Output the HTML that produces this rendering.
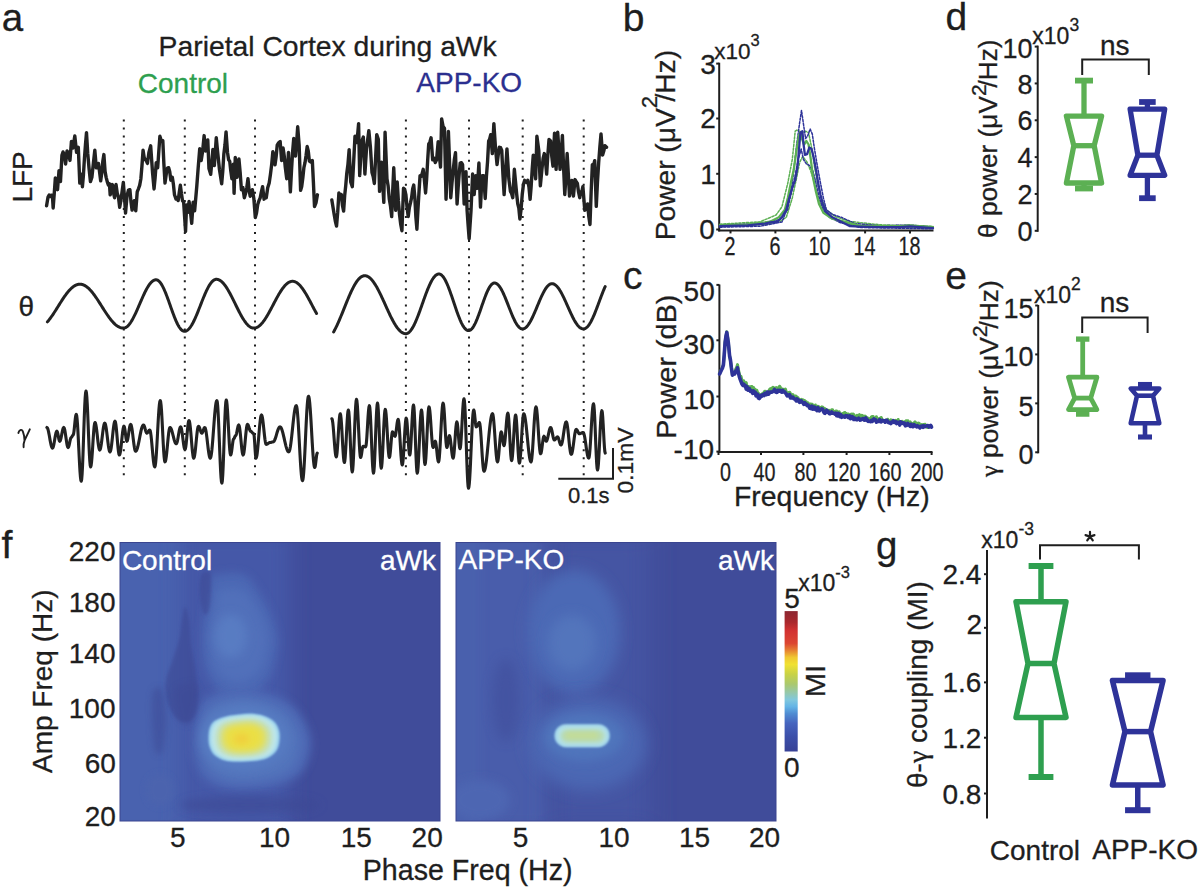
<!DOCTYPE html>
<html><head><meta charset="utf-8"><title>Figure</title>
<style>html,body{margin:0;padding:0;background:#fff;} svg{display:block;} text{font-family:"Liberation Sans",sans-serif;}</style>
</head><body>
<svg width="1200" height="889" viewBox="0 0 1200 889">
<rect width="1200" height="889" fill="#fff"/>
<defs><filter id="b1" x="-60%" y="-60%" width="220%" height="220%"><feGaussianBlur stdDeviation="1"/></filter><filter id="b1_2" x="-60%" y="-60%" width="220%" height="220%"><feGaussianBlur stdDeviation="1.2"/></filter><filter id="b1_5" x="-60%" y="-60%" width="220%" height="220%"><feGaussianBlur stdDeviation="1.5"/></filter><filter id="b2" x="-60%" y="-60%" width="220%" height="220%"><feGaussianBlur stdDeviation="2"/></filter><filter id="b2_5" x="-60%" y="-60%" width="220%" height="220%"><feGaussianBlur stdDeviation="2.5"/></filter><filter id="b3" x="-60%" y="-60%" width="220%" height="220%"><feGaussianBlur stdDeviation="3"/></filter><filter id="b4" x="-60%" y="-60%" width="220%" height="220%"><feGaussianBlur stdDeviation="4"/></filter><filter id="b5" x="-60%" y="-60%" width="220%" height="220%"><feGaussianBlur stdDeviation="5"/></filter><filter id="b6" x="-60%" y="-60%" width="220%" height="220%"><feGaussianBlur stdDeviation="6"/></filter><filter id="b7" x="-60%" y="-60%" width="220%" height="220%"><feGaussianBlur stdDeviation="7"/></filter><filter id="b8" x="-60%" y="-60%" width="220%" height="220%"><feGaussianBlur stdDeviation="8"/></filter><filter id="b9" x="-60%" y="-60%" width="220%" height="220%"><feGaussianBlur stdDeviation="9"/></filter><filter id="b10" x="-60%" y="-60%" width="220%" height="220%"><feGaussianBlur stdDeviation="10"/></filter><filter id="b12" x="-60%" y="-60%" width="220%" height="220%"><feGaussianBlur stdDeviation="12"/></filter><filter id="b14" x="-60%" y="-60%" width="220%" height="220%"><feGaussianBlur stdDeviation="14"/></filter><filter id="b16" x="-60%" y="-60%" width="220%" height="220%"><feGaussianBlur stdDeviation="16"/></filter><filter id="b20" x="-60%" y="-60%" width="220%" height="220%"><feGaussianBlur stdDeviation="20"/></filter><linearGradient id="cbar" x1="0" y1="0" x2="0" y2="1"><stop offset="0" stop-color="#8c2832"/><stop offset="0.08" stop-color="#aa282d"/><stop offset="0.14" stop-color="#d23232"/><stop offset="0.23" stop-color="#dc4632"/><stop offset="0.28" stop-color="#e68232"/><stop offset="0.33" stop-color="#f0c832"/><stop offset="0.38" stop-color="#f0e132"/><stop offset="0.45" stop-color="#c8d246"/><stop offset="0.52" stop-color="#aac86e"/><stop offset="0.58" stop-color="#96c8aa"/><stop offset="0.63" stop-color="#82c8dc"/><stop offset="0.68" stop-color="#64b4e6"/><stop offset="0.73" stop-color="#508cd2"/><stop offset="0.8" stop-color="#4664be"/><stop offset="0.89" stop-color="#3c50aa"/><stop offset="1" stop-color="#374196"/></linearGradient><clipPath id="hm1"><rect x="120" y="542.5" width="320" height="278.5"/></clipPath><clipPath id="hm2"><rect x="456" y="542.5" width="320" height="278.5"/></clipPath></defs>
<g clip-path="url(#hm1)">
<rect x="120" y="542.5" width="320" height="278.5" fill="#404c9a"/>
<rect x="100" y="530" width="92" height="300" rx="0" fill="#4962af" opacity="1" filter="url(#b5)"/>
<rect x="180" y="530" width="110" height="300" rx="0" fill="#4559a8" opacity="1" filter="url(#b10)"/>
<path d="M212.90,575.70 C218.40,573.35 235.18,571.57 242.80,574.20 C250.42,576.83 253.87,584.68 258.60,591.50 C263.33,598.32 268.05,607.23 271.20,615.10 C274.35,622.97 276.98,630.82 277.50,638.70 C278.02,646.58 275.88,655.57 274.30,662.40 C272.72,669.23 271.40,674.45 268.00,679.70 C264.60,684.95 260.20,691.02 253.90,693.90 C247.60,696.78 236.77,698.32 230.20,697.00 C223.63,695.68 218.70,691.00 214.50,686.00 C210.30,681.00 207.10,674.88 205.00,667.00 C202.90,659.12 201.90,647.87 201.90,638.70 C201.90,629.53 203.68,620.40 205.00,612.00 C206.32,603.60 208.48,594.35 209.80,588.30 C211.12,582.25 207.40,578.05 212.90,575.70Z" fill="#4c67b4" opacity="1" filter="url(#b4)"/>
<path d="M193.00,740.00 C193.33,731.67 193.83,717.50 197.00,710.00 C200.17,702.50 204.83,698.50 212.00,695.00 C219.17,691.50 230.33,689.17 240.00,689.00 C249.67,688.83 260.83,690.83 270.00,694.00 C279.17,697.17 288.33,701.17 295.00,708.00 C301.67,714.83 307.83,726.33 310.00,735.00 C312.17,743.67 310.50,752.83 308.00,760.00 C305.50,767.17 302.17,773.33 295.00,778.00 C287.83,782.67 275.83,786.17 265.00,788.00 C254.17,789.83 240.00,790.50 230.00,789.00 C220.00,787.50 210.83,783.83 205.00,779.00 C199.17,774.17 197.00,766.50 195.00,760.00 C193.00,753.50 192.67,748.33 193.00,740.00Z" fill="#4d69b5" opacity="1" filter="url(#b4)"/>
<path d="M218.68,590.78 C222.80,589.01 235.39,587.68 241.10,589.65 C246.81,591.63 249.40,597.51 252.95,602.62 C256.50,607.74 260.04,614.43 262.40,620.33 C264.76,626.23 266.74,632.11 267.12,638.03 C267.51,643.94 265.91,650.67 264.73,655.80 C263.54,660.92 262.55,664.84 260.00,668.78 C257.45,672.71 254.15,677.26 249.43,679.42 C244.70,681.59 236.57,682.74 231.65,681.75 C226.72,680.76 223.03,677.25 219.88,673.50 C216.72,669.75 214.32,665.16 212.75,659.25 C211.18,653.34 210.43,644.90 210.43,638.03 C210.43,631.15 211.76,624.30 212.75,618.00 C213.74,611.70 215.36,604.76 216.35,600.22 C217.34,595.69 214.55,592.54 218.68,590.78Z" fill="#5170ba" opacity="1" filter="url(#b4)"/>
<path d="M202.54,740.00 C202.81,733.17 203.22,721.55 205.82,715.40 C208.42,709.25 212.24,705.97 218.12,703.10 C224.00,700.23 233.15,698.32 241.08,698.18 C249.01,698.04 258.16,699.68 265.68,702.28 C273.20,704.88 280.71,708.16 286.18,713.76 C291.65,719.36 296.70,728.79 298.48,735.90 C300.26,743.01 298.89,750.52 296.84,756.40 C294.79,762.28 292.06,767.33 286.18,771.16 C280.30,774.99 270.46,777.86 261.58,779.36 C252.70,780.86 241.08,781.41 232.88,780.18 C224.68,778.95 217.16,775.94 212.38,771.98 C207.60,768.02 205.82,761.73 204.18,756.40 C202.54,751.07 202.27,746.83 202.54,740.00Z" fill="#5274bc" opacity="1" filter="url(#b4)"/>
<ellipse cx="231" cy="636" rx="16" ry="22" fill="#587bc2" opacity="1" filter="url(#b5)"/>
<ellipse cx="244" cy="738" rx="44" ry="32" fill="#577cc2" opacity="1" filter="url(#b4)"/>
<path d="M185.00,607.00 C186.17,607.00 188.00,613.67 189.00,620.00 C190.00,626.33 190.00,637.00 191.00,645.00 C192.00,653.00 193.83,660.50 195.00,668.00 C196.17,675.50 197.83,682.67 198.00,690.00 C198.17,697.33 197.67,706.67 196.00,712.00 C194.33,717.33 191.33,721.00 188.00,722.00 C184.67,723.00 179.50,721.67 176.00,718.00 C172.50,714.33 168.67,706.33 167.00,700.00 C165.33,693.67 165.17,686.33 166.00,680.00 C166.83,673.67 169.83,668.67 172.00,662.00 C174.17,655.33 177.33,647.00 179.00,640.00 C180.67,633.00 181.00,625.50 182.00,620.00 C183.00,614.50 183.83,607.00 185.00,607.00Z" fill="#3c4894" opacity="0.6" filter="url(#b1_5)"/>
<path d="M201.00,576.00 C202.67,571.83 208.33,570.67 210.00,573.00 C211.67,575.33 211.17,583.83 211.00,590.00 C210.83,596.17 210.17,606.00 209.00,610.00 C207.83,614.00 205.50,616.00 204.00,614.00 C202.50,612.00 200.50,604.33 200.00,598.00 C199.50,591.67 199.33,580.17 201.00,576.00Z" fill="#3c4894" opacity="0.55" filter="url(#b1_5)"/>
<path d="M153.00,692.00 C154.67,687.00 159.83,685.33 162.00,690.00 C164.17,694.67 166.00,709.67 166.00,720.00 C166.00,730.33 163.83,747.00 162.00,752.00 C160.17,757.00 156.67,755.33 155.00,750.00 C153.33,744.67 152.33,729.67 152.00,720.00 C151.67,710.33 151.33,697.00 153.00,692.00Z" fill="#3c4894" opacity="0.5" filter="url(#b3)"/>
<path d="M175.00,690.00 C178.00,684.33 192.17,681.50 196.00,684.00 C199.83,686.50 199.00,698.33 198.00,705.00 C197.00,711.67 193.33,721.83 190.00,724.00 C186.67,726.17 180.50,723.67 178.00,718.00 C175.50,712.33 172.00,695.67 175.00,690.00Z" fill="#3c4894" opacity="0.45" filter="url(#b3)"/>
<ellipse cx="250" cy="805" rx="70" ry="9" fill="#3c4894" opacity="0.6" filter="url(#b4)"/>
<ellipse cx="160" cy="790" rx="14" ry="16" fill="#4b63ae" opacity="1" filter="url(#b3)"/>
<path d="M208.50,738.00 C208.50,734.75 208.82,730.62 209.80,727.80 C210.78,724.98 211.95,722.92 214.40,721.10 C216.85,719.28 220.70,717.95 224.50,716.90 C228.30,715.85 232.27,715.30 237.20,714.80 C242.13,714.30 249.18,713.55 254.10,713.90 C259.02,714.25 263.18,715.42 266.70,716.90 C270.22,718.38 273.08,720.27 275.20,722.80 C277.32,725.33 278.77,728.58 279.40,732.10 C280.03,735.62 279.70,740.53 279.00,743.90 C278.30,747.27 277.25,749.92 275.20,752.30 C273.15,754.68 270.22,756.78 266.70,758.20 C263.18,759.62 259.02,760.23 254.10,760.80 C249.18,761.37 242.13,761.68 237.20,761.60 C232.27,761.52 228.30,761.42 224.50,760.30 C220.70,759.18 216.85,757.07 214.40,754.90 C211.95,752.73 210.78,750.12 209.80,747.30 C208.82,744.48 208.50,741.25 208.50,738.00Z" fill="#9ad0ec" opacity="1" filter="url(#b1)"/>
<path d="M210.95,738.00 C210.95,734.98 211.24,731.13 212.16,728.51 C213.07,725.89 214.16,723.97 216.44,722.28 C218.72,720.59 222.30,719.35 225.83,718.38 C229.36,717.40 233.05,716.89 237.64,716.42 C242.23,715.96 248.79,715.26 253.36,715.59 C257.93,715.91 261.81,717.00 265.08,718.38 C268.35,719.76 271.01,721.51 272.98,723.86 C274.95,726.22 276.30,729.24 276.89,732.51 C277.48,735.78 277.17,740.36 276.51,743.49 C275.86,746.62 274.89,749.08 272.98,751.30 C271.07,753.52 268.35,755.47 265.08,756.79 C261.81,758.10 257.93,758.68 253.36,759.20 C248.79,759.73 242.23,760.03 237.64,759.95 C233.05,759.87 229.36,759.78 225.83,758.74 C222.30,757.70 218.72,755.73 216.44,753.72 C214.16,751.70 213.07,749.27 212.16,746.65 C211.24,744.03 210.95,741.02 210.95,738.00Z" fill="#bce6ee" opacity="1" filter="url(#b1_5)"/>
<path d="M215.50,738.00 C215.50,735.40 215.75,732.09 216.54,729.84 C217.33,727.59 218.26,725.93 220.22,724.48 C222.18,723.03 225.26,721.96 228.30,721.12 C231.34,720.28 234.51,719.84 238.46,719.44 C242.41,719.04 248.05,718.44 251.98,718.72 C255.91,719.00 259.25,719.93 262.06,721.12 C264.87,722.31 267.17,723.81 268.86,725.84 C270.55,727.87 271.71,730.47 272.22,733.28 C272.73,736.09 272.46,740.03 271.90,742.72 C271.34,745.41 270.50,747.53 268.86,749.44 C267.22,751.35 264.87,753.03 262.06,754.16 C259.25,755.29 255.91,755.79 251.98,756.24 C248.05,756.69 242.41,756.95 238.46,756.88 C234.51,756.81 231.34,756.73 228.30,755.84 C225.26,754.95 222.18,753.25 220.22,751.52 C218.26,749.79 217.33,747.69 216.54,745.44 C215.75,743.19 215.50,740.60 215.50,738.00Z" fill="#c2e0c4" opacity="1" filter="url(#b2_5)"/>
<path d="M220.40,738.00 C220.40,735.86 220.61,733.13 221.26,731.27 C221.91,729.41 222.68,728.04 224.29,726.85 C225.91,725.65 228.45,724.77 230.96,724.07 C233.47,723.38 236.09,723.02 239.34,722.69 C242.60,722.36 247.25,721.86 250.50,722.09 C253.74,722.32 256.49,723.09 258.81,724.07 C261.13,725.05 263.02,726.30 264.42,727.97 C265.82,729.64 266.78,731.78 267.19,734.11 C267.61,736.43 267.39,739.67 266.93,741.89 C266.47,744.12 265.77,745.87 264.42,747.44 C263.07,749.01 261.13,750.40 258.81,751.33 C256.49,752.27 253.74,752.67 250.50,753.05 C247.25,753.42 242.60,753.63 239.34,753.58 C236.09,753.52 233.47,753.45 230.96,752.72 C228.45,751.98 225.91,750.58 224.29,749.15 C222.68,747.72 221.91,746.00 221.26,744.14 C220.61,742.28 220.40,740.14 220.40,738.00Z" fill="#dcdf70" opacity="1" filter="url(#b3)"/>
<path d="M225.30,738.00 C225.30,736.31 225.46,734.16 225.98,732.70 C226.49,731.23 227.09,730.16 228.37,729.21 C229.64,728.27 231.64,727.57 233.62,727.03 C235.60,726.48 237.66,726.20 240.22,725.94 C242.79,725.68 246.46,725.29 249.01,725.47 C251.57,725.65 253.74,726.26 255.56,727.03 C257.39,727.80 258.88,728.78 259.98,730.10 C261.08,731.41 261.84,733.10 262.17,734.93 C262.50,736.76 262.32,739.32 261.96,741.07 C261.60,742.82 261.05,744.20 259.98,745.44 C258.92,746.68 257.39,747.77 255.56,748.50 C253.74,749.24 251.57,749.56 249.01,749.86 C246.46,750.15 242.79,750.32 240.22,750.27 C237.66,750.23 235.60,750.18 233.62,749.60 C231.64,749.02 229.64,747.91 228.37,746.79 C227.09,745.66 226.49,744.30 225.98,742.84 C225.46,741.37 225.30,739.69 225.30,738.00Z" fill="#ebdf44" opacity="1" filter="url(#b3)"/>
<ellipse cx="241.5" cy="739" rx="8" ry="5" fill="#f0cf3c" opacity="1" filter="url(#b3)"/>
</g>
<rect x="120" y="542.5" width="320" height="278.5" fill="none" stroke="#3a4590" stroke-width="1"/>
<g clip-path="url(#hm2)">
<rect x="456" y="542.5" width="320" height="278.5" fill="#404c9a"/>
<rect x="440" y="530" width="110" height="300" rx="0" fill="#485dab" opacity="1" filter="url(#b8)"/>
<rect x="440" y="530" width="40" height="300" rx="0" fill="#4a61ad" opacity="1" filter="url(#b5)"/>
<rect x="550" y="530" width="100" height="300" rx="0" fill="#4454a3" opacity="1" filter="url(#b12)"/>
<ellipse cx="574" cy="632" rx="46" ry="62" fill="#4c69b5" opacity="1" filter="url(#b7)"/>
<ellipse cx="572" cy="643" rx="24" ry="28" fill="#5374bc" opacity="1" filter="url(#b6)"/>
<ellipse cx="588" cy="744" rx="58" ry="46" fill="#4b68b4" opacity="1" filter="url(#b8)"/>
<ellipse cx="584" cy="737" rx="40" ry="24" fill="#5074bc" opacity="1" filter="url(#b5)"/>
<ellipse cx="506" cy="700" rx="14" ry="42" fill="#3d4a97" opacity="0.45" filter="url(#b6)"/>
<ellipse cx="480" cy="800" rx="30" ry="20" fill="#4d66b2" opacity="1" filter="url(#b5)"/>
<rect x="554.5" y="724.2" width="55.3" height="23" rx="11.5" fill="#9ccfe9" opacity="1" filter="url(#b1_2)"/>
<rect x="556.5" y="726" width="51.3" height="19.4" rx="9.5" fill="#b3e2ec" opacity="1" filter="url(#b1_5)"/>
<rect x="560.5" y="729.5" width="44" height="13" rx="6.5" fill="#b9dab0" opacity="1" filter="url(#b2)"/>
<rect x="566" y="732" width="32" height="7" rx="3.5" fill="#c2dc98" opacity="1" filter="url(#b2)"/>
</g>
<rect x="456" y="542.5" width="320" height="278.5" fill="none" stroke="#3a4590" stroke-width="1"/>
<rect x="784.6" y="611.1" width="13.1" height="140.4" fill="url(#cbar)"/>
<line x1="719.2" y1="62.7" x2="719.2" y2="231.4" stroke="#1e1e1e" stroke-width="2"/>
<line x1="716.2" y1="63.6" x2="719.2" y2="63.6" stroke="#1e1e1e" stroke-width="2"/>
<line x1="716.2" y1="118.5" x2="719.2" y2="118.5" stroke="#1e1e1e" stroke-width="2"/>
<line x1="716.2" y1="173.8" x2="719.2" y2="173.8" stroke="#1e1e1e" stroke-width="2"/>
<line x1="716.2" y1="229.5" x2="719.2" y2="229.5" stroke="#1e1e1e" stroke-width="2"/>
<line x1="718.2" y1="230.4" x2="933.5" y2="230.4" stroke="#1e1e1e" stroke-width="2"/>
<line x1="730.5" y1="230.4" x2="730.5" y2="233.4" stroke="#1e1e1e" stroke-width="2"/>
<line x1="775.4" y1="230.4" x2="775.4" y2="233.4" stroke="#1e1e1e" stroke-width="2"/>
<line x1="820.2" y1="230.4" x2="820.2" y2="233.4" stroke="#1e1e1e" stroke-width="2"/>
<line x1="865.1" y1="230.4" x2="865.1" y2="233.4" stroke="#1e1e1e" stroke-width="2"/>
<line x1="910" y1="230.4" x2="910" y2="233.4" stroke="#1e1e1e" stroke-width="2"/>
<path d="M719.90,224.20 L760.00,221.80 L776.00,215.00 L781.90,206.90 L787.80,183.10 L792.30,159.40 L795.20,131.20 L797.50,129.70 L801.00,133.00 L805.60,131.20 L808.60,132.70 L811.60,147.50 L814.50,166.80 L817.50,183.10 L821.20,198.00 L826.40,209.80 L835.00,216.50 L850.00,221.50 L880.00,224.80 L933.00,226.40" fill="none" stroke="#5cb053" stroke-width="1.5" stroke-linejoin="round" stroke-linecap="round" stroke-dasharray="2.2 1.6"/>
<path d="M719.90,226.20 L765.00,224.60 L780.00,221.50 L786.30,217.30 L792.30,198.00 L796.70,177.20 L799.70,162.30 L802.70,156.40 L807.10,162.30 L810.80,171.20 L814.50,183.10 L817.50,195.00 L822.00,206.90 L827.90,215.80 L840.00,221.80 L860.00,226.00 L933.00,228.00" fill="none" stroke="#5cb053" stroke-width="1.5" stroke-linejoin="round" stroke-linecap="round" stroke-dasharray="2.2 1.6"/>
<path d="M719.90,225.20 L760.00,223.40 L780.00,219.50 L787.50,210.00 L792.30,183.10 L796.70,144.50 L799.70,122.30 L801.50,110.40 L803.40,123.70 L805.60,138.60 L807.80,135.60 L810.10,128.90 L812.30,134.10 L814.50,149.00 L817.50,166.80 L820.50,183.10 L823.40,198.00 L826.40,209.80 L832.30,214.30 L841.20,217.30 L855.00,223.50 L880.00,225.80 L910.00,225.00 L933.00,227.00" fill="none" stroke="#2e3399" stroke-width="1.5" stroke-linejoin="round" stroke-linecap="round" stroke-dasharray="2.2 1.6"/>
<path d="M719.90,227.20 L760.00,226.20 L782.00,222.00 L787.80,206.90 L793.70,183.10 L798.20,159.40 L801.20,149.00 L803.40,159.40 L806.40,163.80 L809.30,165.30 L813.00,171.20 L816.00,183.10 L819.00,196.50 L823.40,209.80 L829.40,217.30 L840.00,222.50 L860.00,227.50 L933.00,228.80" fill="none" stroke="#2e3399" stroke-width="1.5" stroke-linejoin="round" stroke-linecap="round" stroke-dasharray="2.2 1.6"/>
<path d="M719.90,225.20 L747.60,224.40 L765.00,222.40 L770.00,221.70 L778.90,217.30 L784.80,209.80 L787.80,198.00 L790.80,183.10 L793.70,169.80 L796.70,149.00 L798.90,135.60 L800.40,131.90 L801.90,138.60 L804.10,144.50 L806.40,141.00 L808.60,144.50 L810.80,159.40 L813.00,177.20 L816.00,192.00 L819.00,203.90 L823.40,212.80 L832.30,218.70 L844.20,221.70 L860.00,225.60 L880.00,226.20 L900.00,226.20 L910.00,225.40 L933.00,227.20" fill="none" stroke="#5cb053" stroke-width="2.3" stroke-linejoin="round" stroke-linecap="round" />
<path d="M719.90,226.20 L747.60,225.40 L765.00,223.60 L770.00,222.40 L777.40,221.70 L781.90,217.30 L786.30,209.80 L789.30,198.00 L792.30,187.60 L795.20,180.10 L797.50,166.80 L798.90,150.50 L800.40,132.70 L802.40,131.20 L803.40,143.00 L804.90,154.90 L807.10,154.20 L809.30,147.50 L811.60,149.00 L813.80,157.90 L816.00,169.80 L818.20,183.10 L820.50,195.00 L822.70,203.90 L825.70,211.30 L832.30,217.30 L838.30,220.20 L844.20,223.20 L850.00,226.20 L860.00,226.60 L880.00,227.20 L900.00,227.20 L910.00,226.40 L933.00,228.20" fill="none" stroke="#2e3399" stroke-width="2.3" stroke-linejoin="round" stroke-linecap="round" />
<line x1="719.4" y1="284.5" x2="719.4" y2="452.6" stroke="#1e1e1e" stroke-width="2"/>
<line x1="716.4" y1="284.9" x2="719.4" y2="284.9" stroke="#1e1e1e" stroke-width="2"/>
<line x1="716.4" y1="340.3" x2="719.4" y2="340.3" stroke="#1e1e1e" stroke-width="2"/>
<line x1="716.4" y1="396.5" x2="719.4" y2="396.5" stroke="#1e1e1e" stroke-width="2"/>
<line x1="716.4" y1="451.6" x2="719.4" y2="451.6" stroke="#1e1e1e" stroke-width="2"/>
<line x1="718.4" y1="452" x2="932.5" y2="452" stroke="#1e1e1e" stroke-width="2"/>
<line x1="718.5" y1="452" x2="718.5" y2="455" stroke="#1e1e1e" stroke-width="2"/>
<line x1="761" y1="452" x2="761" y2="455" stroke="#1e1e1e" stroke-width="2"/>
<line x1="803.4" y1="452" x2="803.4" y2="455" stroke="#1e1e1e" stroke-width="2"/>
<line x1="846.6" y1="452" x2="846.6" y2="455" stroke="#1e1e1e" stroke-width="2"/>
<line x1="889.4" y1="452" x2="889.4" y2="455" stroke="#1e1e1e" stroke-width="2"/>
<line x1="931.6" y1="452" x2="931.6" y2="455" stroke="#1e1e1e" stroke-width="2"/>
<path d="M719.60,373.40 L720.65,370.96 L721.70,368.90 L722.55,366.89 L723.40,364.40 L724.25,354.85 L725.10,341.90 L725.95,336.71 L726.80,331.80 L728.30,341.90 L729.60,355.40 L730.45,361.03 L731.30,366.60 L732.40,374.50 L733.55,374.30 L734.70,373.40 L735.63,369.21 L736.57,367.58 L737.50,364.60 L738.35,369.32 L739.20,373.00 L740.13,376.81 L741.07,376.64 L742.00,380.90 L742.84,380.81 L743.67,380.66 L744.51,384.24 L745.35,384.47 L746.19,382.57 L747.03,387.03 L747.86,387.66 L748.70,386.50 L749.51,387.60 L750.33,387.93 L751.14,386.59 L751.96,386.50 L752.77,389.04 L753.59,387.65 L754.40,389.90 L755.20,389.39 L756.00,390.32 L756.80,390.21 L757.60,392.67 L758.40,393.30 L759.20,395.64 L760.00,395.00 L760.80,394.59 L761.60,394.59 L762.40,393.54 L763.20,393.71 L764.00,392.40 L764.80,391.20 L765.60,391.60 L766.40,393.28 L767.20,392.95 L768.00,392.02 L768.80,391.17 L769.60,389.29 L770.40,388.63 L771.20,389.40 L772.05,388.34 L772.90,387.26 L773.75,389.83 L774.60,388.15 L775.45,389.72 L776.30,387.67 L777.15,389.74 L778.00,387.70 L778.80,389.33 L779.60,386.19 L780.40,387.27 L781.20,390.31 L782.00,388.79 L782.80,391.08 L783.60,389.40 L784.50,389.67 L785.40,389.05 L786.30,391.96 L787.20,393.23 L788.10,392.80 L788.90,392.44 L789.70,392.26 L790.50,393.80 L791.30,396.88 L792.10,396.62 L792.90,394.61 L793.70,396.70 L794.55,396.11 L795.40,395.95 L796.25,396.21 L797.10,399.59 L797.95,397.54 L798.80,399.49 L799.65,399.46 L800.50,400.10 L801.34,399.29 L802.17,401.88 L803.01,399.90 L803.85,402.37 L804.69,400.69 L805.53,402.33 L806.36,401.93 L807.20,403.50 L808.02,402.89 L808.84,406.00 L809.65,405.64 L810.47,403.95 L811.29,406.58 L812.11,404.20 L812.93,405.24 L813.75,407.39 L814.56,406.85 L815.38,404.99 L816.20,406.90 L817.01,409.09 L817.81,406.22 L818.62,406.64 L819.43,408.93 L820.24,407.39 L821.04,407.50 L821.85,406.84 L822.66,407.15 L823.46,409.35 L824.27,408.23 L825.08,409.90 L825.89,409.22 L826.69,409.78 L827.50,410.20 L828.34,412.19 L829.17,410.43 L830.01,410.95 L830.85,412.27 L831.69,409.68 L832.53,409.72 L833.36,412.88 L834.20,411.40 L835.03,412.93 L835.85,410.91 L836.68,410.92 L837.51,413.38 L838.34,414.43 L839.16,411.71 L839.99,414.98 L840.82,414.97 L841.65,414.11 L842.47,413.63 L843.30,414.20 L844.11,412.74 L844.91,412.59 L845.72,416.41 L846.53,413.63 L847.33,415.62 L848.14,413.95 L848.95,416.33 L849.75,415.55 L850.56,414.45 L851.37,414.10 L852.17,416.40 L852.98,413.92 L853.79,414.67 L854.59,416.12 L855.40,417.41 L856.21,416.58 L857.01,415.36 L857.82,418.03 L858.63,415.30 L859.43,414.67 L860.24,415.80 L861.05,416.62 L861.85,415.20 L862.66,415.79 L863.47,416.68 L864.27,417.61 L865.08,415.97 L865.89,417.01 L866.69,419.24 L867.50,417.80 L868.31,419.80 L869.11,418.59 L869.92,418.80 L870.73,418.46 L871.53,416.76 L872.34,416.42 L873.15,416.43 L873.95,420.08 L874.76,419.32 L875.57,420.45 L876.37,416.77 L877.18,419.30 L877.99,418.77 L878.79,419.84 L879.60,418.28 L880.41,421.08 L881.21,417.46 L882.02,419.42 L882.83,420.27 L883.63,421.00 L884.44,420.43 L885.25,420.37 L886.05,420.81 L886.86,421.38 L887.67,419.21 L888.47,420.62 L889.28,421.56 L890.09,421.52 L890.89,419.79 L891.70,420.20 L892.50,421.49 L893.31,421.90 L894.11,420.86 L894.91,421.19 L895.72,420.35 L896.52,421.27 L897.32,421.50 L898.13,419.51 L898.93,421.87 L899.73,423.41 L900.54,423.08 L901.34,422.59 L902.14,421.36 L902.95,422.87 L903.75,422.37 L904.55,421.94 L905.36,423.65 L906.16,420.76 L906.96,423.54 L907.77,420.79 L908.57,423.20 L909.37,422.84 L910.18,421.96 L910.98,423.95 L911.78,423.27 L912.59,423.86 L913.39,425.21 L914.19,422.68 L915.00,421.82 L915.80,423.90 L916.63,423.24 L917.45,424.89 L918.28,423.12 L919.11,423.13 L919.93,426.21 L920.76,425.36 L921.58,424.63 L922.41,426.56 L923.24,424.44 L924.06,425.93 L924.89,424.20 L925.72,425.27 L926.54,426.90 L927.37,427.47 L928.19,427.47 L929.02,425.63 L929.85,426.56 L930.67,425.63 L931.50,426.50" fill="none" stroke="#5cb053" stroke-width="3.0" stroke-linejoin="round" stroke-linecap="round" />
<path d="M719.60,374.00 L720.65,371.66 L721.70,369.50 L722.55,367.82 L723.40,365.00 L724.25,354.35 L725.10,342.50 L725.95,336.16 L726.80,332.40 L728.30,342.50 L729.60,356.00 L730.45,359.84 L731.30,367.20 L732.40,375.10 L733.55,374.10 L734.70,374.00 L735.63,371.12 L736.57,370.98 L737.50,367.80 L738.35,372.69 L739.20,376.20 L740.13,379.20 L741.07,381.68 L742.00,384.10 L742.84,385.38 L743.67,384.22 L744.51,385.98 L745.35,385.68 L746.19,389.06 L747.03,386.71 L747.86,390.15 L748.70,389.70 L749.51,388.65 L750.33,391.34 L751.14,390.57 L751.96,391.30 L752.77,393.36 L753.59,390.88 L754.40,393.10 L755.20,392.16 L756.00,395.88 L756.80,395.06 L757.60,394.20 L758.40,398.07 L759.20,398.57 L760.00,397.60 L760.80,395.72 L761.60,396.35 L762.40,394.83 L763.20,394.98 L764.00,395.61 L764.80,393.47 L765.60,394.20 L766.40,394.59 L767.20,391.96 L768.00,392.07 L768.80,394.08 L769.60,392.27 L770.40,392.02 L771.20,392.00 L772.05,392.13 L772.90,391.49 L773.75,390.95 L774.60,389.46 L775.45,391.75 L776.30,392.41 L777.15,392.23 L778.00,390.30 L778.80,391.13 L779.60,390.27 L780.40,390.54 L781.20,391.96 L782.00,392.14 L782.80,390.37 L783.60,392.00 L784.50,391.73 L785.40,392.87 L786.30,394.08 L787.20,395.84 L788.10,395.40 L788.90,395.87 L789.70,394.64 L790.50,397.98 L791.30,397.03 L792.10,397.83 L792.90,397.23 L793.70,398.70 L794.55,398.86 L795.40,399.15 L796.25,400.95 L797.10,398.97 L797.95,401.00 L798.80,400.09 L799.65,402.38 L800.50,402.10 L801.34,400.86 L802.17,402.15 L803.01,402.81 L803.85,404.29 L804.69,402.61 L805.53,404.50 L806.36,404.03 L807.20,405.50 L808.02,405.02 L808.84,406.03 L809.65,408.08 L810.47,406.67 L811.29,408.69 L812.11,406.16 L812.93,409.19 L813.75,407.48 L814.56,407.16 L815.38,409.49 L816.20,408.90 L817.01,410.62 L817.81,407.60 L818.62,408.77 L819.43,410.82 L820.24,409.51 L821.04,409.38 L821.85,408.78 L822.66,409.13 L823.46,411.45 L824.27,413.00 L825.08,413.29 L825.89,411.74 L826.69,410.25 L827.50,412.20 L828.34,411.71 L829.17,413.53 L830.01,413.85 L830.85,413.30 L831.69,411.98 L832.53,413.20 L833.36,413.17 L834.20,413.40 L835.03,414.11 L835.85,413.05 L836.68,415.77 L837.51,415.84 L838.34,413.46 L839.16,414.18 L839.99,416.53 L840.82,414.64 L841.65,417.29 L842.47,416.00 L843.30,416.20 L844.11,417.03 L844.91,417.18 L845.72,415.53 L846.53,415.91 L847.33,415.92 L848.14,417.58 L848.95,417.74 L849.75,415.83 L850.56,418.67 L851.37,417.11 L852.17,416.59 L852.98,417.41 L853.79,419.49 L854.59,418.10 L855.40,418.45 L856.21,419.63 L857.01,419.90 L857.82,419.30 L858.63,418.18 L859.43,418.92 L860.24,420.16 L861.05,419.88 L861.85,419.25 L862.66,418.53 L863.47,418.73 L864.27,420.17 L865.08,419.67 L865.89,417.82 L866.69,420.44 L867.50,419.80 L868.31,421.33 L869.11,421.03 L869.92,421.47 L870.73,421.60 L871.53,420.33 L872.34,421.32 L873.15,419.93 L873.95,418.99 L874.76,419.99 L875.57,419.92 L876.37,422.24 L877.18,421.44 L877.99,420.99 L878.79,421.36 L879.60,419.65 L880.41,421.20 L881.21,421.88 L882.02,420.86 L882.83,420.40 L883.63,421.06 L884.44,420.84 L885.25,422.23 L886.05,420.35 L886.86,420.25 L887.67,421.12 L888.47,422.58 L889.28,422.89 L890.09,422.61 L890.89,423.68 L891.70,422.20 L892.50,421.84 L893.31,420.75 L894.11,422.53 L894.91,422.49 L895.72,421.66 L896.52,423.54 L897.32,422.49 L898.13,422.24 L898.93,422.69 L899.73,425.03 L900.54,421.78 L901.34,423.18 L902.14,423.01 L902.95,422.85 L903.75,423.81 L904.55,423.17 L905.36,425.80 L906.16,424.42 L906.96,425.26 L907.77,423.45 L908.57,424.66 L909.37,425.30 L910.18,426.27 L910.98,424.26 L911.78,425.14 L912.59,426.68 L913.39,426.72 L914.19,424.67 L915.00,425.91 L915.80,425.90 L916.63,426.90 L917.45,425.65 L918.28,426.71 L919.11,426.74 L919.93,427.92 L920.76,426.47 L921.58,426.99 L922.41,425.87 L923.24,427.30 L924.06,425.89 L924.89,426.59 L925.72,426.16 L926.54,426.03 L927.37,425.47 L928.19,425.86 L929.02,427.07 L929.85,426.08 L930.67,425.40 L931.50,427.10" fill="none" stroke="#2e3399" stroke-width="3.6" stroke-linejoin="round" stroke-linecap="round" />
<line x1="123.8" y1="119.5" x2="123.8" y2="476" stroke="#1e1e1e" stroke-width="2" stroke-dasharray="2 6.04"/>
<line x1="184.8" y1="119.5" x2="184.8" y2="476" stroke="#1e1e1e" stroke-width="2" stroke-dasharray="2 6.04"/>
<line x1="255.0" y1="119.5" x2="255.0" y2="476" stroke="#1e1e1e" stroke-width="2" stroke-dasharray="2 6.04"/>
<line x1="405.9" y1="119.5" x2="405.9" y2="476" stroke="#1e1e1e" stroke-width="2" stroke-dasharray="2 6.04"/>
<line x1="469.0" y1="119.5" x2="469.0" y2="476" stroke="#1e1e1e" stroke-width="2" stroke-dasharray="2 6.04"/>
<line x1="522.7" y1="119.5" x2="522.7" y2="476" stroke="#1e1e1e" stroke-width="2" stroke-dasharray="2 6.04"/>
<line x1="583.7" y1="119.5" x2="583.7" y2="476" stroke="#1e1e1e" stroke-width="2" stroke-dasharray="2 6.04"/>
<path d="M46.58,205.76 L48.04,196.99 L49.14,195.05 L50.23,196.52 L51.33,195.11 L52.43,195.53 L53.16,207.95 L54.25,193.59 L55.35,177.98 L56.45,184.58 L57.54,189.68 L59.01,170.67 L60.47,181.64 L61.93,155.32 L63.03,151.98 L64.12,153.86 L65.58,164.09 L67.05,150.94 L68.51,152.77 L69.97,160.44 L71.43,141.43 L72.89,148.01 L74.80,136.02 L76.55,152.40 L78.30,147.28 L79.77,183.10 L81.67,174.33 L82.40,186.75 L83.42,175.26 L84.44,158.26 L85.47,144.59 L86.49,132.66 L87.73,153.18 L88.98,167.75 L90.44,181.64 L91.90,177.25 L93.36,163.55 L94.82,150.20 L96.29,167.75 L97.38,167.57 L98.48,163.36 L99.58,171.99 L100.67,180.91 L101.74,172.97 L102.82,161.27 L103.89,154.59 L105.06,171.40 L106.15,177.33 L107.25,181.64 L108.35,184.94 L109.44,183.83 L110.18,194.80 L111.27,189.82 L112.37,184.56 L113.46,192.59 L114.56,197.72 L116.02,184.56 L117.24,193.14 L118.46,197.05 L119.68,207.22 L120.90,200.49 L122.12,191.20 L123.33,182.37 L124.43,196.53 L125.53,213.07 L126.99,196.26 L128.45,190.15 L129.91,189.68 L131.01,202.11 L132.11,210.15 L133.20,205.23 L134.30,200.64 L135.76,210.88 L137.22,191.87 L138.44,188.80 L139.66,185.37 L140.88,178.71 L141.97,165.74 L143.07,150.20 L144.17,157.48 L145.26,159.71 L146.36,160.90 L147.46,163.36 L148.92,152.40 L150.67,145.82 L152.57,172.87 L154.04,188.95 L155.13,177.59 L156.23,162.63 L157.69,167.75 L158.79,151.70 L159.88,136.32 L161.35,141.12 L162.81,140.70 L163.90,164.17 L165.00,183.10 L166.46,172.87 L167.56,167.89 L168.65,167.75 L169.75,171.78 L170.85,180.18 L172.31,177.25 L173.41,184.33 L174.50,194.80 L175.96,199.05 L177.43,197.72 L178.16,200.64 L179.25,192.58 L180.35,185.29 L181.45,193.73 L182.54,200.64 L183.65,202.11 L185.56,231.35 L186.58,205.03 L188.04,212.34 L189.06,201.37 L190.38,211.15 L191.70,223.30 L193.16,202.11 L194.62,210.88 L195.72,198.49 L196.81,186.02 L198.27,166.70 L199.74,148.74 L201.20,160.44 L202.66,150.94 L204.12,135.58 L205.58,150.94 L206.68,144.56 L207.78,139.97 L208.95,168.48 L210.70,174.33 L211.80,162.41 L212.89,149.47 L214.36,165.56 L216.26,137.78 L217.28,148.52 L218.30,158.25 L219.42,169.20 L220.55,176.39 L221.67,183.83 L222.76,171.42 L223.86,153.86 L224.96,145.03 L226.05,131.93 L227.51,152.40 L228.61,159.73 L229.71,161.17 L230.80,170.97 L231.90,178.71 L233.36,164.09 L234.09,193.33 L235.26,157.51 L237.02,177.25 L238.92,158.98 L240.16,172.31 L241.40,189.68 L242.87,187.49 L244.33,197.72 L245.55,193.55 L246.76,187.84 L247.98,178.71 L249.08,189.91 L250.18,196.26 L251.27,193.38 L252.37,189.68 L253.83,198.45 L255.29,217.46 L256.51,213.13 L257.73,204.51 L258.95,200.64 L260.17,198.00 L261.38,191.83 L262.60,186.75 L264.06,199.18 L265.16,197.16 L266.26,197.72 L267.72,187.79 L269.18,183.10 L270.40,174.75 L271.62,165.08 L272.84,151.67 L273.93,155.78 L275.03,164.82 L276.13,156.76 L277.22,145.09 L278.68,142.72 L280.15,141.43 L281.61,160.44 L283.07,148.01 L284.17,155.42 L285.26,167.02 L286.73,178.71 L288.48,152.40 L290.38,191.87 L291.48,170.90 L292.57,152.40 L293.74,138.51 L295.50,156.05 L296.59,143.05 L297.69,126.81 L299.15,145.09 L300.61,190.41 L301.71,186.43 L302.81,177.98 L303.90,167.57 L305.00,162.63 L306.10,155.28 L307.19,146.55 L308.29,151.13 L309.39,161.17 L310.85,162.11 L312.31,160.44 L313.41,182.45 L314.50,206.49 L315.96,202.93 L317.43,194.80" fill="none" stroke="#222" stroke-width="3.4" stroke-linejoin="round" stroke-linecap="round" />
<path d="M331.82,200.05 L333.00,207.28 L334.18,214.50 L335.36,221.32 L336.54,226.04 L337.72,212.16 L338.91,192.96 L340.09,195.18 L341.27,194.53 L342.45,205.34 L343.63,211.08 L344.68,195.65 L345.73,185.66 L346.78,173.26 L347.97,164.11 L349.15,149.63 L350.72,181.93 L352.30,186.66 L353.64,162.34 L354.98,136.24 L356.55,142.54 L357.58,135.49 L358.60,123.63 L359.70,175.63 L361.28,147.27 L362.30,139.83 L363.33,137.03 L364.90,174.05 L366.48,148.84 L367.66,139.60 L368.84,130.72 L370.42,147.27 L371.99,172.48 L373.17,176.47 L374.36,183.50 L375.54,159.35 L376.72,134.66 L378.30,139.39 L379.56,191.38 L381.45,162.23 L382.63,182.77 L383.81,202.41 L385.07,132.30 L386.96,178.78 L388.14,186.10 L389.32,199.26 L390.51,206.23 L391.69,216.59 L392.71,190.85 L393.74,167.75 L395.63,210.29 L397.20,181.93 L398.38,200.97 L399.57,215.01 L400.75,224.49 L401.93,230.77 L403.50,188.23 L404.69,189.34 L405.87,194.53 L407.05,207.34 L408.23,216.59 L409.41,207.33 L410.59,202.41 L411.64,197.34 L412.69,188.62 L413.75,185.08 L414.80,196.80 L415.85,216.72 L416.90,229.19 L417.95,209.60 L419.00,191.78 L420.05,175.63 L421.10,176.42 L422.15,173.66 L423.20,169.32 L424.38,179.88 L425.56,192.96 L426.61,179.45 L427.66,160.63 L428.71,144.12 L429.89,142.03 L431.08,137.81 L432.65,159.87 L433.96,158.10 L435.28,162.52 L436.59,159.87 L438.17,141.75 L439.35,155.50 L440.53,166.96 L441.63,118.91 L443.05,126.43 L444.47,128.36 L446.04,199.26 L447.23,167.75 L448.41,131.51 L449.59,163.39 L450.77,197.68 L451.95,183.46 L453.13,170.90 L454.32,159.84 L455.50,152.78 L457.07,203.99 L458.12,188.21 L459.17,174.07 L460.22,163.02 L461.41,162.62 L462.59,164.60 L464.16,203.99 L465.99,171.69 L467.09,210.29 L468.11,225.09 L469.14,238.65 L471.03,210.29 L472.60,174.05 L474.18,194.53 L475.76,175.63 L477.33,188.23 L478.91,163.02 L480.48,207.14 L482.06,175.63 L483.63,175.63 L485.21,198.47 L486.39,176.98 L487.57,161.45 L488.67,140.96 L489.70,138.88 L490.72,134.66 L492.30,153.57 L493.87,123.63 L495.45,147.27 L497.03,164.60 L498.21,154.96 L499.39,147.27 L500.57,147.70 L501.75,150.42 L502.93,174.39 L504.12,194.53 L505.53,171.57 L506.95,148.84 L508.84,178.78 L510.42,191.38 L511.60,193.43 L512.78,197.68 L514.36,169.32 L515.54,181.82 L516.72,194.53 L517.77,203.90 L518.82,208.16 L519.87,218.95 L521.05,209.59 L522.23,194.53 L523.42,184.58 L524.60,180.35 L525.65,181.85 L526.70,182.42 L527.75,180.35 L528.93,186.91 L530.11,199.26 L531.16,186.28 L532.21,169.05 L533.26,155.14 L534.44,167.43 L535.63,178.78 L536.89,136.24 L538.78,150.42 L540.35,185.87 L541.93,169.32 L543.11,158.50 L544.29,153.57 L545.47,161.09 L546.66,174.05 L547.84,154.81 L549.02,139.39 L550.59,140.96 L551.78,156.30 L552.96,166.17 L554.53,133.09 L556.11,169.32 L557.68,132.30 L558.87,148.99 L560.05,169.32 L561.23,153.92 L562.41,135.45 L563.59,167.57 L564.77,194.53 L565.96,176.70 L567.14,153.57 L568.32,173.90 L569.50,196.11 L570.68,187.36 L571.86,180.35 L573.44,196.11 L575.01,179.57 L576.20,181.68 L577.38,183.50 L578.56,192.25 L579.74,197.68 L580.79,191.66 L581.84,191.82 L582.89,186.66 L584.78,210.29 L586.20,208.92 L587.62,203.99 L588.80,216.39 L589.98,224.47 L591.16,191.75 L592.35,164.60 L593.53,165.30 L594.71,160.66 L596.28,206.35 L597.47,182.23 L598.65,163.02 L599.83,147.49 L601.01,133.87 L602.59,155.14 L603.77,151.08 L604.95,145.69 L606.53,147.27" fill="none" stroke="#222" stroke-width="3.4" stroke-linejoin="round" stroke-linecap="round" />
<path d="M47.40,321.87 L47.90,321.29 L48.40,320.69 L48.90,320.07 L49.40,319.43 L49.90,318.78 L50.40,318.11 L50.90,317.43 L51.40,316.73 L51.90,316.01 L52.40,315.29 L52.90,314.55 L53.40,313.80 L53.90,313.04 L54.40,312.28 L54.90,311.50 L55.40,310.72 L55.90,309.93 L56.40,309.14 L56.90,308.35 L57.40,307.55 L57.90,306.75 L58.40,305.95 L58.90,305.15 L59.40,304.35 L59.90,303.56 L60.40,302.77 L60.90,301.98 L61.40,301.20 L61.90,300.42 L62.40,299.66 L62.90,298.90 L63.40,298.15 L63.90,297.41 L64.40,296.69 L64.90,295.97 L65.40,295.27 L65.90,294.59 L66.40,293.92 L66.90,293.27 L67.40,292.63 L67.90,292.01 L68.40,291.41 L68.90,290.83 L69.40,290.27 L69.90,289.73 L70.40,289.21 L70.90,288.72 L71.40,288.24 L71.90,287.80 L72.40,287.37 L72.90,286.97 L73.40,286.60 L73.90,286.25 L74.40,285.92 L74.90,285.63 L75.40,285.36 L75.90,285.12 L76.40,284.90 L76.90,284.72 L77.40,284.56 L77.90,284.43 L78.40,284.33 L78.90,284.26 L79.40,284.21 L79.90,284.20 L80.40,284.21 L80.90,284.26 L81.40,284.33 L81.90,284.43 L82.40,284.56 L82.90,284.71 L83.40,284.90 L83.90,285.11 L84.40,285.35 L84.90,285.62 L85.40,285.91 L85.90,286.23 L86.40,286.57 L86.90,286.95 L87.40,287.34 L87.90,287.76 L88.40,288.21 L88.90,288.68 L89.40,289.17 L89.90,289.68 L90.40,290.21 L90.90,290.77 L91.40,291.35 L91.90,291.94 L92.40,292.55 L92.90,293.18 L93.40,293.83 L93.90,294.50 L94.40,295.18 L94.90,295.87 L95.40,296.58 L95.90,297.29 L96.40,298.03 L96.90,298.77 L97.40,299.52 L97.90,300.28 L98.40,301.05 L98.90,301.82 L99.40,302.60 L99.90,303.38 L100.40,304.17 L100.90,304.96 L101.40,305.75 L101.90,306.55 L102.40,307.34 L102.90,308.13 L103.40,308.92 L103.90,309.70 L104.40,310.48 L104.90,311.25 L105.40,312.02 L105.90,312.78 L106.40,313.53 L106.90,314.27 L107.40,315.01 L107.90,315.72 L108.40,316.43 L108.90,317.12 L109.40,317.80 L109.90,318.47 L110.40,319.12 L110.90,319.75 L111.40,320.36 L111.90,320.95 L112.40,321.53 L112.90,322.09 L113.40,322.62 L113.90,323.13 L114.40,323.62 L114.90,324.09 L115.40,324.54 L115.90,324.96 L116.40,325.35 L116.90,325.73 L117.40,326.07 L117.90,326.39 L118.40,326.68 L118.90,326.95 L119.40,327.19 L119.90,327.40 L120.40,327.59 L120.90,327.74 L121.40,327.87 L121.90,327.97 L122.40,328.04 L122.90,328.09 L123.40,328.10 L123.90,328.07 L124.40,327.99 L124.90,327.85 L125.41,327.65 L125.91,327.40 L126.41,327.09 L126.91,326.73 L127.41,326.32 L127.91,325.85 L128.42,325.33 L128.92,324.77 L129.42,324.15 L129.92,323.49 L130.42,322.78 L130.92,322.03 L131.42,321.23 L131.93,320.40 L132.43,319.52 L132.93,318.61 L133.43,317.67 L133.93,316.69 L134.43,315.69 L134.94,314.65 L135.44,313.59 L135.94,312.51 L136.44,311.41 L136.94,310.29 L137.44,309.16 L137.94,308.02 L138.45,306.86 L138.95,305.70 L139.45,304.53 L139.95,303.37 L140.45,302.20 L140.95,301.04 L141.46,299.88 L141.96,298.74 L142.46,297.61 L142.96,296.49 L143.46,295.39 L143.96,294.31 L144.46,293.25 L144.97,292.21 L145.47,291.21 L145.97,290.23 L146.47,289.29 L146.97,288.38 L147.47,287.50 L147.98,286.67 L148.48,285.87 L148.98,285.12 L149.48,284.41 L149.98,283.75 L150.48,283.13 L150.98,282.57 L151.49,282.05 L151.99,281.58 L152.49,281.17 L152.99,280.81 L153.49,280.50 L153.99,280.25 L154.50,280.05 L155.00,279.91 L155.50,279.83 L156.00,279.80 L156.50,279.84 L157.00,279.96 L157.50,280.15 L158.00,280.42 L158.50,280.77 L159.00,281.20 L159.50,281.69 L160.00,282.26 L160.50,282.90 L161.00,283.61 L161.50,284.39 L162.00,285.23 L162.50,286.13 L163.00,287.09 L163.50,288.11 L164.00,289.18 L164.50,290.30 L165.00,291.47 L165.50,292.68 L166.00,293.92 L166.50,295.21 L167.00,296.52 L167.50,297.86 L168.00,299.23 L168.50,300.61 L169.00,302.01 L169.50,303.42 L170.00,304.84 L170.50,306.26 L171.00,307.68 L171.50,309.09 L172.00,310.49 L172.50,311.87 L173.00,313.24 L173.50,314.58 L174.00,315.89 L174.50,317.18 L175.00,318.43 L175.50,319.63 L176.00,320.80 L176.50,321.92 L177.00,322.99 L177.50,324.01 L178.00,324.97 L178.50,325.87 L179.00,326.71 L179.50,327.49 L180.00,328.20 L180.50,328.84 L181.00,329.41 L181.50,329.90 L182.00,330.33 L182.50,330.68 L183.00,330.95 L183.50,331.14 L184.00,331.26 L184.50,331.30 L185.01,331.27 L185.51,331.17 L186.02,331.01 L186.53,330.78 L187.03,330.50 L187.54,330.14 L188.04,329.73 L188.55,329.26 L189.06,328.73 L189.56,328.13 L190.07,327.49 L190.58,326.78 L191.08,326.03 L191.59,325.22 L192.10,324.36 L192.60,323.45 L193.11,322.50 L193.61,321.51 L194.12,320.48 L194.63,319.41 L195.13,318.30 L195.64,317.16 L196.15,315.99 L196.65,314.80 L197.16,313.58 L197.67,312.34 L198.17,311.09 L198.68,309.81 L199.18,308.53 L199.69,307.24 L200.20,305.95 L200.70,304.65 L201.21,303.36 L201.72,302.07 L202.22,300.79 L202.73,299.51 L203.23,298.26 L203.74,297.02 L204.25,295.80 L204.75,294.61 L205.26,293.44 L205.77,292.30 L206.27,291.19 L206.78,290.12 L207.29,289.09 L207.79,288.10 L208.30,287.15 L208.80,286.24 L209.31,285.38 L209.82,284.57 L210.32,283.82 L210.83,283.11 L211.34,282.47 L211.84,281.87 L212.35,281.34 L212.86,280.87 L213.36,280.46 L213.87,280.10 L214.37,279.82 L214.88,279.59 L215.39,279.43 L215.89,279.33 L216.40,279.30 L216.90,279.32 L217.40,279.39 L217.90,279.49 L218.40,279.64 L218.90,279.83 L219.40,280.07 L219.90,280.34 L220.40,280.66 L220.90,281.01 L221.40,281.41 L221.90,281.84 L222.40,282.32 L222.90,282.83 L223.40,283.38 L223.90,283.96 L224.40,284.58 L224.90,285.23 L225.40,285.91 L225.90,286.63 L226.40,287.37 L226.90,288.15 L227.40,288.95 L227.90,289.77 L228.40,290.63 L228.90,291.50 L229.40,292.40 L229.90,293.31 L230.40,294.24 L230.90,295.19 L231.40,296.16 L231.90,297.14 L232.40,298.13 L232.90,299.13 L233.40,300.14 L233.90,301.15 L234.40,302.17 L234.90,303.19 L235.40,304.21 L235.90,305.23 L236.40,306.25 L236.90,307.26 L237.40,308.27 L237.90,309.27 L238.40,310.26 L238.90,311.24 L239.40,312.21 L239.90,313.16 L240.40,314.09 L240.90,315.00 L241.40,315.90 L241.90,316.77 L242.40,317.63 L242.90,318.45 L243.40,319.25 L243.90,320.03 L244.40,320.77 L244.90,321.49 L245.40,322.17 L245.90,322.82 L246.40,323.44 L246.90,324.02 L247.40,324.57 L247.90,325.08 L248.40,325.56 L248.90,325.99 L249.40,326.39 L249.90,326.74 L250.40,327.06 L250.90,327.33 L251.40,327.57 L251.90,327.76 L252.40,327.91 L252.90,328.01 L253.40,328.08 L253.90,328.10 L254.40,328.08 L254.90,328.02 L255.40,327.92 L255.91,327.79 L256.41,327.61 L256.91,327.40 L257.41,327.15 L257.91,326.86 L258.41,326.54 L258.91,326.18 L259.41,325.78 L259.92,325.35 L260.42,324.88 L260.92,324.39 L261.42,323.85 L261.92,323.29 L262.42,322.69 L262.92,322.07 L263.42,321.41 L263.93,320.73 L264.43,320.02 L264.93,319.29 L265.43,318.53 L265.93,317.75 L266.43,316.95 L266.93,316.12 L267.44,315.28 L267.94,314.42 L268.44,313.54 L268.94,312.65 L269.44,311.75 L269.94,310.83 L270.44,309.91 L270.94,308.97 L271.45,308.03 L271.95,307.08 L272.45,306.13 L272.95,305.18 L273.45,304.22 L273.95,303.27 L274.45,302.32 L274.95,301.37 L275.46,300.43 L275.96,299.49 L276.46,298.57 L276.96,297.65 L277.46,296.75 L277.96,295.86 L278.46,294.98 L278.96,294.12 L279.47,293.28 L279.97,292.45 L280.47,291.65 L280.97,290.87 L281.47,290.11 L281.97,289.38 L282.47,288.67 L282.98,287.99 L283.48,287.33 L283.98,286.71 L284.48,286.11 L284.98,285.55 L285.48,285.01 L285.98,284.52 L286.48,284.05 L286.99,283.62 L287.49,283.22 L287.99,282.86 L288.49,282.54 L288.99,282.25 L289.49,282.00 L289.99,281.79 L290.49,281.61 L291.00,281.48 L291.50,281.38 L292.00,281.32 L292.50,281.30 L293.00,281.32 L293.50,281.38 L294.00,281.47 L294.51,281.61 L295.01,281.78 L295.51,282.00 L296.01,282.25 L296.51,282.53 L297.01,282.86 L297.51,283.22 L298.01,283.61 L298.52,284.04 L299.02,284.51 L299.52,285.01 L300.02,285.54 L300.52,286.10 L301.02,286.70 L301.52,287.32 L302.02,287.97 L302.53,288.65 L303.03,289.36 L303.53,290.09 L304.03,290.85 L304.53,291.63 L305.03,292.43 L305.53,293.25 L306.04,294.09 L306.54,294.95 L307.04,295.82 L307.54,296.71 L308.04,297.62 L308.54,298.53 L309.04,299.45 L309.54,300.39 L310.05,301.33 L310.55,302.27 L311.05,303.22 L311.55,304.17 L312.05,305.13 L312.55,306.08 L313.05,307.03 L313.55,307.97 L314.06,308.91 L314.56,309.85 L315.06,310.77 L315.56,311.68 L316.06,312.59 L316.56,313.48" fill="none" stroke="#222" stroke-width="3" stroke-linejoin="round" stroke-linecap="round" />
<path d="M333.62,331.88 L334.13,330.99 L334.63,330.07 L335.13,329.12 L335.63,328.14 L336.13,327.13 L336.63,326.10 L337.13,325.03 L337.63,323.95 L338.14,322.84 L338.64,321.71 L339.14,320.56 L339.64,319.39 L340.14,318.20 L340.64,317.00 L341.14,315.79 L341.64,314.57 L342.15,313.33 L342.65,312.09 L343.15,310.85 L343.65,309.60 L344.15,308.35 L344.65,307.10 L345.15,305.85 L345.65,304.61 L346.15,303.37 L346.66,302.13 L347.16,300.91 L347.66,299.70 L348.16,298.50 L348.66,297.31 L349.16,296.14 L349.66,294.99 L350.16,293.86 L350.67,292.75 L351.17,291.67 L351.67,290.60 L352.17,289.57 L352.67,288.56 L353.17,287.58 L353.67,286.63 L354.17,285.71 L354.68,284.82 L355.18,283.98 L355.68,283.16 L356.18,282.38 L356.68,281.64 L357.18,280.94 L357.68,280.29 L358.18,279.67 L358.69,279.09 L359.19,278.56 L359.69,278.07 L360.19,277.62 L360.69,277.22 L361.19,276.87 L361.69,276.56 L362.19,276.30 L362.70,276.08 L363.20,275.92 L363.70,275.80 L364.20,275.72 L364.70,275.70 L365.20,275.72 L365.70,275.79 L366.20,275.89 L366.70,276.04 L367.21,276.23 L367.71,276.46 L368.21,276.74 L368.71,277.05 L369.21,277.41 L369.71,277.80 L370.21,278.24 L370.71,278.71 L371.22,279.22 L371.72,279.77 L372.22,280.36 L372.72,280.98 L373.22,281.64 L373.72,282.33 L374.22,283.05 L374.72,283.80 L375.23,284.59 L375.73,285.41 L376.23,286.25 L376.73,287.12 L377.23,288.02 L377.73,288.94 L378.23,289.88 L378.73,290.85 L379.24,291.83 L379.74,292.84 L380.24,293.86 L380.74,294.90 L381.24,295.95 L381.74,297.02 L382.24,298.09 L382.74,299.18 L383.25,300.27 L383.75,301.37 L384.25,302.48 L384.75,303.59 L385.25,304.70 L385.75,305.81 L386.25,306.92 L386.75,308.03 L387.25,309.13 L387.76,310.22 L388.26,311.31 L388.76,312.38 L389.26,313.45 L389.76,314.50 L390.26,315.54 L390.76,316.56 L391.26,317.57 L391.77,318.55 L392.27,319.52 L392.77,320.46 L393.27,321.38 L393.77,322.28 L394.27,323.15 L394.77,323.99 L395.27,324.81 L395.78,325.60 L396.28,326.35 L396.78,327.07 L397.28,327.76 L397.78,328.42 L398.28,329.04 L398.78,329.63 L399.28,330.18 L399.79,330.69 L400.29,331.16 L400.79,331.60 L401.29,331.99 L401.79,332.35 L402.29,332.66 L402.79,332.94 L403.29,333.17 L403.80,333.36 L404.30,333.51 L404.80,333.61 L405.30,333.68 L405.80,333.70 L406.30,333.67 L406.80,333.56 L407.30,333.40 L407.81,333.16 L408.31,332.86 L408.81,332.49 L409.31,332.06 L409.81,331.56 L410.31,331.00 L410.82,330.38 L411.32,329.70 L411.82,328.96 L412.32,328.17 L412.82,327.31 L413.32,326.41 L413.82,325.45 L414.33,324.45 L414.83,323.40 L415.33,322.30 L415.83,321.16 L416.33,319.99 L416.83,318.77 L417.33,317.53 L417.84,316.25 L418.34,314.94 L418.84,313.61 L419.34,312.26 L419.84,310.89 L420.34,309.50 L420.85,308.10 L421.35,306.69 L421.85,305.27 L422.35,303.85 L422.85,302.43 L423.35,301.01 L423.85,299.60 L424.36,298.20 L424.86,296.81 L425.36,295.44 L425.86,294.09 L426.36,292.76 L426.86,291.45 L427.37,290.17 L427.87,288.93 L428.37,287.71 L428.87,286.54 L429.37,285.40 L429.87,284.30 L430.37,283.25 L430.88,282.25 L431.38,281.29 L431.88,280.39 L432.38,279.53 L432.88,278.74 L433.38,278.00 L433.88,277.32 L434.39,276.70 L434.89,276.14 L435.39,275.64 L435.89,275.21 L436.39,274.84 L436.89,274.54 L437.40,274.30 L437.90,274.14 L438.40,274.03 L438.90,274.00 L439.40,274.04 L439.91,274.16 L440.41,274.36 L440.91,274.64 L441.42,275.00 L441.92,275.43 L442.42,275.94 L442.93,276.53 L443.43,277.19 L443.93,277.92 L444.44,278.72 L444.94,279.58 L445.44,280.51 L445.95,281.51 L446.45,282.56 L446.95,283.66 L447.46,284.82 L447.96,286.03 L448.46,287.29 L448.97,288.59 L449.47,289.92 L449.97,291.30 L450.48,292.70 L450.98,294.13 L451.48,295.58 L451.99,297.06 L452.49,298.54 L452.99,300.04 L453.50,301.55 L454.00,303.05 L454.51,304.56 L455.01,306.06 L455.51,307.54 L456.02,309.02 L456.52,310.47 L457.02,311.90 L457.53,313.30 L458.03,314.68 L458.53,316.01 L459.04,317.31 L459.54,318.57 L460.04,319.78 L460.55,320.94 L461.05,322.04 L461.55,323.09 L462.06,324.09 L462.56,325.02 L463.06,325.88 L463.57,326.68 L464.07,327.41 L464.57,328.07 L465.08,328.66 L465.58,329.17 L466.08,329.60 L466.59,329.96 L467.09,330.24 L467.59,330.44 L468.10,330.56 L468.60,330.60 L469.11,330.55 L469.62,330.42 L470.12,330.19 L470.63,329.88 L471.14,329.48 L471.65,328.99 L472.15,328.42 L472.66,327.77 L473.17,327.04 L473.68,326.23 L474.19,325.34 L474.69,324.39 L475.20,323.37 L475.71,322.28 L476.22,321.14 L476.73,319.95 L477.23,318.70 L477.74,317.41 L478.25,316.08 L478.76,314.71 L479.26,313.31 L479.77,311.89 L480.28,310.45 L480.79,309.00 L481.30,307.53 L481.80,306.07 L482.31,304.60 L482.82,303.15 L483.33,301.71 L483.84,300.29 L484.34,298.89 L484.85,297.52 L485.36,296.19 L485.87,294.90 L486.37,293.65 L486.88,292.46 L487.39,291.32 L487.90,290.23 L488.41,289.21 L488.91,288.26 L489.42,287.37 L489.93,286.56 L490.44,285.83 L490.95,285.18 L491.45,284.61 L491.96,284.12 L492.47,283.72 L492.98,283.41 L493.48,283.18 L493.99,283.05 L494.50,283.00 L495.00,283.04 L495.50,283.14 L496.00,283.32 L496.50,283.58 L497.00,283.90 L497.50,284.29 L498.00,284.75 L498.50,285.27 L499.00,285.86 L499.50,286.52 L500.00,287.23 L500.50,288.01 L501.00,288.84 L501.50,289.72 L502.00,290.66 L502.50,291.64 L503.00,292.67 L503.50,293.74 L504.00,294.85 L504.50,295.99 L505.00,297.17 L505.50,298.37 L506.00,299.60 L506.50,300.84 L507.00,302.11 L507.50,303.38 L508.00,304.66 L508.50,305.95 L509.00,307.24 L509.50,308.52 L510.00,309.79 L510.50,311.06 L511.00,312.30 L511.50,313.53 L512.00,314.73 L512.50,315.91 L513.00,317.05 L513.50,318.16 L514.00,319.23 L514.50,320.26 L515.00,321.24 L515.50,322.18 L516.00,323.06 L516.50,323.89 L517.00,324.67 L517.50,325.38 L518.00,326.04 L518.50,326.63 L519.00,327.15 L519.50,327.61 L520.00,328.00 L520.50,328.32 L521.00,328.58 L521.50,328.76 L522.00,328.86 L522.50,328.90 L523.00,328.87 L523.50,328.77 L524.00,328.61 L524.50,328.39 L525.00,328.10 L525.50,327.76 L526.00,327.35 L526.50,326.88 L527.00,326.35 L527.50,325.77 L528.00,325.13 L528.50,324.44 L529.00,323.70 L529.50,322.91 L530.00,322.07 L530.50,321.18 L531.00,320.26 L531.50,319.29 L532.00,318.29 L532.50,317.25 L533.00,316.18 L533.50,315.09 L534.00,313.97 L534.50,312.82 L535.00,311.66 L535.50,310.49 L536.00,309.30 L536.50,308.10 L537.00,306.90 L537.50,305.70 L538.00,304.50 L538.50,303.30 L539.00,302.11 L539.50,300.94 L540.00,299.78 L540.50,298.63 L541.00,297.51 L541.50,296.42 L542.00,295.35 L542.50,294.31 L543.00,293.31 L543.50,292.34 L544.00,291.42 L544.50,290.53 L545.00,289.69 L545.50,288.90 L546.00,288.16 L546.50,287.47 L547.00,286.83 L547.50,286.25 L548.00,285.72 L548.50,285.25 L549.00,284.84 L549.50,284.50 L550.00,284.21 L550.50,283.99 L551.00,283.83 L551.50,283.73 L552.00,283.70 L552.51,283.73 L553.01,283.82 L553.52,283.96 L554.03,284.16 L554.53,284.42 L555.04,284.74 L555.55,285.11 L556.05,285.53 L556.56,286.01 L557.06,286.54 L557.57,287.12 L558.08,287.75 L558.58,288.43 L559.09,289.15 L559.60,289.92 L560.10,290.73 L560.61,291.58 L561.12,292.47 L561.62,293.39 L562.13,294.35 L562.64,295.33 L563.14,296.35 L563.65,297.39 L564.15,298.45 L564.66,299.53 L565.17,300.64 L565.67,301.75 L566.18,302.88 L566.69,304.01 L567.19,305.16 L567.70,306.30 L568.21,307.44 L568.71,308.59 L569.22,309.72 L569.73,310.85 L570.23,311.96 L570.74,313.07 L571.25,314.15 L571.75,315.21 L572.26,316.25 L572.76,317.27 L573.27,318.25 L573.78,319.21 L574.28,320.13 L574.79,321.02 L575.30,321.87 L575.80,322.68 L576.31,323.45 L576.82,324.17 L577.32,324.85 L577.83,325.48 L578.34,326.06 L578.84,326.59 L579.35,327.07 L579.85,327.49 L580.36,327.86 L580.87,328.18 L581.37,328.44 L581.88,328.64 L582.39,328.78 L582.89,328.87 L583.40,328.90 L583.91,328.87 L584.41,328.76 L584.92,328.59 L585.43,328.35 L585.93,328.04 L586.44,327.66 L586.95,327.22 L587.45,326.72 L587.96,326.15 L588.46,325.51 L588.97,324.82 L589.48,324.07 L589.98,323.26 L590.49,322.40 L591.00,321.48 L591.50,320.52 L592.01,319.50 L592.52,318.45 L593.02,317.35 L593.53,316.21 L594.04,315.03 L594.54,313.82 L595.05,312.58 L595.55,311.31 L596.06,310.02 L596.57,308.71 L597.07,307.37 L597.58,306.03 L598.09,304.68 L598.59,303.31 L599.10,301.95 L599.61,300.59 L600.11,299.22 L600.62,297.87 L601.13,296.53 L601.63,295.19 L602.14,293.88 L602.65,292.59 L603.15,291.32 L603.66,290.08 L604.16,288.87 L604.67,287.69 L605.18,286.55" fill="none" stroke="#222" stroke-width="3" stroke-linejoin="round" stroke-linecap="round" />
<path d="M46.88,427.50 L47.28,427.76 L47.68,428.52 L48.08,429.75 L48.48,431.38 L48.88,433.34 L49.29,435.52 L49.69,437.81 L50.09,440.11 L50.49,442.29 L50.89,444.24 L51.29,445.88 L51.70,447.10 L52.10,447.87 L52.50,448.12 L52.94,447.71 L53.38,446.51 L53.81,444.65 L54.25,442.29 L54.69,439.69 L55.12,437.08 L55.56,434.73 L56.00,432.86 L56.44,431.66 L56.88,431.25 L57.29,431.75 L57.70,433.13 L58.11,435.14 L58.52,437.36 L58.93,439.37 L59.34,440.75 L59.75,441.25 L60.15,440.91 L60.55,439.94 L60.95,438.42 L61.35,436.50 L61.75,434.38 L62.15,432.25 L62.55,430.33 L62.95,428.81 L63.35,427.84 L63.75,427.50 L64.19,427.99 L64.62,429.41 L65.06,431.62 L65.50,434.41 L65.94,437.50 L66.38,440.59 L66.81,443.38 L67.25,445.59 L67.69,447.01 L68.12,447.50 L68.57,447.00 L69.02,445.62 L69.46,443.61 L69.91,441.39 L70.36,439.38 L70.80,438.00 L71.25,437.50 L71.72,437.13 L72.19,436.25 L72.66,435.37 L73.12,435.00 L73.57,433.98 L74.02,431.12 L74.46,426.98 L74.91,422.39 L75.36,418.26 L75.80,415.40 L76.25,414.38 L76.67,415.51 L77.08,418.85 L77.50,424.17 L77.92,431.09 L78.33,439.16 L78.75,447.81 L79.17,456.47 L79.58,464.53 L80.00,471.46 L80.42,476.77 L80.83,480.11 L81.25,481.25 L81.68,479.42 L82.11,474.09 L82.55,465.68 L82.98,454.87 L83.41,442.55 L83.84,429.70 L84.27,417.38 L84.70,406.57 L85.14,398.16 L85.57,392.83 L86.00,391.00 L86.42,392.54 L86.84,397.02 L87.26,404.09 L87.68,413.18 L88.10,423.54 L88.52,434.34 L88.94,444.70 L89.36,453.78 L89.78,460.85 L90.20,465.34 L90.62,466.88 L91.06,465.79 L91.50,462.64 L91.94,457.73 L92.38,451.54 L92.81,444.69 L93.25,437.83 L93.69,431.65 L94.12,426.74 L94.56,423.59 L95.00,422.50 L95.43,423.06 L95.86,424.68 L96.30,427.25 L96.73,430.54 L97.16,434.29 L97.59,438.21 L98.02,441.96 L98.45,445.25 L98.89,447.82 L99.32,449.44 L99.75,450.00 L100.17,449.54 L100.58,448.20 L101.00,446.06 L101.42,443.28 L101.83,440.04 L102.25,436.56 L102.67,433.08 L103.08,429.84 L103.50,427.06 L103.92,424.93 L104.33,423.58 L104.75,423.12 L105.15,423.54 L105.56,424.77 L105.96,426.74 L106.37,429.33 L106.77,432.40 L107.17,435.77 L107.58,439.23 L107.98,442.60 L108.38,445.67 L108.79,448.26 L109.19,450.23 L109.60,451.46 L110.00,451.88 L110.42,451.35 L110.83,449.82 L111.25,447.39 L111.67,444.22 L112.08,440.53 L112.50,436.56 L112.92,432.60 L113.33,428.91 L113.75,425.73 L114.17,423.30 L114.58,421.77 L115.00,421.25 L115.44,422.08 L115.88,424.47 L116.31,428.21 L116.75,432.91 L117.19,438.12 L117.62,443.34 L118.06,448.04 L118.50,451.78 L118.94,454.17 L119.38,455.00 L119.80,454.42 L120.22,452.72 L120.64,450.04 L121.06,446.60 L121.48,442.67 L121.90,438.58 L122.32,434.65 L122.74,431.21 L123.16,428.53 L123.58,426.83 L124.00,426.25 L124.41,426.99 L124.82,429.07 L125.23,432.08 L125.64,435.42 L126.05,438.43 L126.46,440.51 L126.88,441.25 L127.29,440.74 L127.71,439.28 L128.12,437.03 L128.54,434.28 L128.96,431.35 L129.38,428.59 L129.79,426.35 L130.21,424.88 L130.62,424.38 L131.04,424.83 L131.46,426.18 L131.88,428.31 L132.29,431.09 L132.71,434.33 L133.12,437.81 L133.54,441.29 L133.96,444.53 L134.38,447.31 L134.79,449.45 L135.21,450.79 L135.62,451.25 L136.04,451.07 L136.45,450.54 L136.87,449.67 L137.28,448.48 L137.70,447.01 L138.11,445.30 L138.53,443.40 L138.94,441.35 L139.36,439.21 L139.77,437.04 L140.18,434.90 L140.60,432.85 L141.01,430.95 L141.43,429.24 L141.84,427.77 L142.26,426.58 L142.67,425.71 L143.09,425.18 L143.50,425.00 L143.92,425.31 L144.34,426.19 L144.77,427.51 L145.19,429.06 L145.61,430.62 L146.03,431.94 L146.45,432.82 L146.88,433.12 L147.29,432.97 L147.70,432.54 L148.11,431.91 L148.52,431.21 L148.93,430.59 L149.34,430.15 L149.75,430.00 L150.17,430.63 L150.58,432.47 L151.00,435.40 L151.42,439.22 L151.83,443.67 L152.25,448.44 L152.67,453.21 L153.08,457.66 L153.50,461.47 L153.92,464.40 L154.33,466.25 L154.75,466.88 L155.17,465.91 L155.60,463.08 L156.02,458.54 L156.44,452.57 L156.87,445.50 L157.29,437.74 L157.71,429.76 L158.13,422.00 L158.56,414.93 L158.98,408.96 L159.40,404.42 L159.83,401.59 L160.25,400.62 L160.68,401.87 L161.11,405.49 L161.55,411.19 L161.98,418.53 L162.41,426.89 L162.84,435.61 L163.27,443.97 L163.70,451.31 L164.14,457.01 L164.57,460.63 L165.00,461.88 L165.42,461.29 L165.83,459.57 L166.25,456.84 L166.67,453.28 L167.08,449.14 L167.50,444.69 L167.92,440.24 L168.33,436.09 L168.75,432.53 L169.17,429.80 L169.58,428.09 L170.00,427.50 L170.42,427.68 L170.83,428.20 L171.25,429.05 L171.67,430.19 L172.08,431.56 L172.50,433.11 L172.92,434.78 L173.33,436.47 L173.75,438.14 L174.17,439.69 L174.58,441.06 L175.00,442.20 L175.42,443.05 L175.83,443.57 L176.25,443.75 L176.69,443.34 L177.12,442.14 L177.56,440.27 L178.00,437.92 L178.44,435.31 L178.88,432.71 L179.31,430.35 L179.75,428.49 L180.19,427.29 L180.62,426.88 L181.06,427.43 L181.50,429.02 L181.94,431.51 L182.38,434.65 L182.81,438.12 L183.25,441.60 L183.69,444.74 L184.12,447.23 L184.56,448.82 L185.00,449.38 L185.40,448.67 L185.80,446.63 L186.20,443.45 L186.60,439.44 L187.00,435.00 L187.40,430.56 L187.80,426.55 L188.20,423.37 L188.60,421.33 L189.00,420.62 L189.43,421.38 L189.86,423.60 L190.30,427.10 L190.73,431.59 L191.16,436.71 L191.59,442.04 L192.02,447.16 L192.45,451.65 L192.89,455.15 L193.32,457.37 L193.75,458.12 L194.18,457.48 L194.61,455.59 L195.05,452.62 L195.48,448.81 L195.91,444.46 L196.34,439.92 L196.77,435.57 L197.20,431.75 L197.64,428.78 L198.07,426.90 L198.50,426.25 L198.92,426.51 L199.34,427.26 L199.77,428.37 L200.19,429.69 L200.61,431.00 L201.03,432.12 L201.45,432.86 L201.88,433.12 L202.29,432.85 L202.70,432.07 L203.11,430.94 L203.52,429.69 L203.93,428.56 L204.34,427.78 L204.75,427.50 L205.17,427.94 L205.60,429.25 L206.02,431.35 L206.44,434.11 L206.87,437.38 L207.29,440.97 L207.71,444.66 L208.13,448.24 L208.56,451.51 L208.98,454.27 L209.40,456.37 L209.83,457.68 L210.25,458.12 L210.66,457.57 L211.08,455.94 L211.49,453.28 L211.91,449.70 L212.32,445.35 L212.73,440.38 L213.15,434.98 L213.56,429.38 L213.98,423.77 L214.39,418.37 L214.80,413.40 L215.22,409.05 L215.63,405.47 L216.05,402.81 L216.46,401.18 L216.88,400.62 L217.29,402.03 L217.71,406.15 L218.12,412.71 L218.54,421.25 L218.96,431.20 L219.38,441.88 L219.79,452.55 L220.21,462.50 L220.62,471.04 L221.04,477.60 L221.46,481.72 L221.88,483.12 L222.31,481.09 L222.75,475.19 L223.19,465.99 L223.62,454.41 L224.06,441.56 L224.50,428.72 L224.94,417.13 L225.38,407.94 L225.81,402.03 L226.25,400.00 L226.69,401.35 L227.12,405.25 L227.56,411.34 L228.00,419.00 L228.44,427.50 L228.88,436.00 L229.31,443.66 L229.75,449.75 L230.19,453.65 L230.62,455.00 L231.07,454.20 L231.52,451.94 L231.96,448.68 L232.41,445.07 L232.86,441.81 L233.30,439.55 L233.75,438.75 L234.22,438.29 L234.69,437.19 L235.16,436.08 L235.62,435.62 L236.07,435.10 L236.52,433.62 L236.96,431.49 L237.41,429.13 L237.86,427.00 L238.30,425.53 L238.75,425.00 L239.19,425.73 L239.62,427.86 L240.06,431.18 L240.50,435.36 L240.94,440.00 L241.38,444.64 L241.81,448.82 L242.25,452.14 L242.69,454.27 L243.12,455.00 L243.56,454.25 L244.00,452.08 L244.44,448.69 L244.88,444.42 L245.31,439.69 L245.75,434.96 L246.19,430.69 L246.62,427.30 L247.06,425.12 L247.50,424.38 L247.95,424.72 L248.39,425.67 L248.84,427.05 L249.29,428.58 L249.73,429.96 L250.18,430.91 L250.62,431.25 L251.07,431.37 L251.52,431.72 L251.96,432.22 L252.41,432.78 L252.86,433.28 L253.30,433.63 L253.75,433.75 L254.20,436.08 L254.65,442.17 L255.10,449.70 L255.55,455.80 L256.00,458.12 L256.42,457.50 L256.85,455.66 L257.27,452.70 L257.69,448.81 L258.12,444.21 L258.54,439.16 L258.96,433.96 L259.38,428.92 L259.81,424.31 L260.23,420.42 L260.65,417.47 L261.08,415.63 L261.50,415.00 L261.93,415.59 L262.36,417.33 L262.80,420.07 L263.23,423.59 L263.66,427.60 L264.09,431.78 L264.52,435.79 L264.95,439.31 L265.39,442.04 L265.82,443.78 L266.25,444.38 L266.67,444.32 L267.08,444.16 L267.50,443.91 L267.92,443.60 L268.33,443.27 L268.75,442.97 L269.17,442.72 L269.58,442.56 L270.00,442.50 L270.45,442.47 L270.89,442.38 L271.34,442.26 L271.79,442.12 L272.23,441.99 L272.68,441.91 L273.12,441.88 L273.53,441.75 L273.93,441.37 L274.34,440.75 L274.74,439.92 L275.15,438.89 L275.55,437.72 L275.96,436.43 L276.36,435.07 L276.76,433.68 L277.17,432.32 L277.57,431.03 L277.98,429.86 L278.38,428.83 L278.79,428.00 L279.19,427.38 L279.60,427.00 L280.00,426.88 L280.42,427.01 L280.83,427.43 L281.25,428.11 L281.67,429.05 L282.08,430.21 L282.50,431.58 L282.92,433.12 L283.33,434.81 L283.75,436.59 L284.17,438.44 L284.58,440.31 L285.00,442.16 L285.42,443.94 L285.83,445.62 L286.25,447.17 L286.67,448.54 L287.08,449.70 L287.50,450.64 L287.92,451.32 L288.33,451.74 L288.75,451.88 L289.17,451.52 L289.58,450.48 L290.00,448.78 L290.42,446.46 L290.83,443.61 L291.25,440.31 L291.67,436.66 L292.08,432.77 L292.50,428.75 L292.92,424.73 L293.33,420.84 L293.75,417.19 L294.17,413.89 L294.58,411.04 L295.00,408.72 L295.42,407.02 L295.83,405.98 L296.25,405.62 L296.67,406.44 L297.08,408.87 L297.50,412.79 L297.92,418.03 L298.33,424.38 L298.75,431.54 L299.17,439.21 L299.58,447.04 L300.00,454.71 L300.42,461.88 L300.83,468.22 L301.25,473.46 L301.67,477.38 L302.08,479.81 L302.50,480.62 L302.90,479.70 L303.30,476.98 L303.70,472.57 L304.10,466.67 L304.50,459.53 L304.90,451.47 L305.30,442.85 L305.70,434.03 L306.10,425.40 L306.50,417.34 L306.90,410.21 L307.30,404.31 L307.70,399.90 L308.10,397.17 L308.50,396.25 L308.92,397.03 L309.33,399.33 L309.75,403.05 L310.17,408.04 L310.58,414.06 L311.00,420.87 L311.42,428.15 L311.83,435.60 L312.25,442.88 L312.67,449.69 L313.08,455.71 L313.50,460.70 L313.92,464.42 L314.33,466.72 L314.75,467.50 L315.17,466.54 L315.58,463.91 L316.00,460.31 L316.42,456.72 L316.83,454.09 L317.25,453.12" fill="none" stroke="#222" stroke-width="3.1" stroke-linejoin="round" stroke-linecap="round" />
<path d="M331.88,418.75 L332.31,419.68 L332.75,422.39 L333.19,426.61 L333.62,431.92 L334.06,437.81 L334.50,443.70 L334.94,449.02 L335.38,453.23 L335.81,455.94 L336.25,456.88 L336.65,455.82 L337.05,452.76 L337.45,447.99 L337.85,441.98 L338.25,435.31 L338.65,428.65 L339.05,422.64 L339.45,417.87 L339.85,414.81 L340.25,413.75 L340.66,414.94 L341.07,418.41 L341.49,423.80 L341.90,430.59 L342.31,438.12 L342.73,445.66 L343.14,452.45 L343.55,457.84 L343.96,461.31 L344.38,462.50 L344.77,461.22 L345.18,457.49 L345.57,451.68 L345.98,444.36 L346.38,436.25 L346.77,428.14 L347.18,420.82 L347.57,415.01 L347.98,411.28 L348.38,410.00 L348.81,411.87 L349.24,417.24 L349.67,425.47 L350.10,435.57 L350.53,446.31 L350.96,456.41 L351.39,464.64 L351.82,470.01 L352.25,471.88 L352.68,470.10 L353.10,464.95 L353.52,456.93 L353.95,446.83 L354.38,435.62 L354.80,424.42 L355.23,414.32 L355.65,406.30 L356.07,401.15 L356.50,399.38 L356.91,400.80 L357.32,404.93 L357.74,411.35 L358.15,419.46 L358.56,428.44 L358.98,437.42 L359.39,445.52 L359.80,451.95 L360.21,456.08 L360.62,457.50 L361.04,456.75 L361.46,454.69 L361.88,451.88 L362.29,449.06 L362.71,447.00 L363.12,446.25 L363.54,446.29 L363.96,446.41 L364.38,446.56 L364.79,446.72 L365.21,446.83 L365.62,446.88 L366.04,445.63 L366.46,442.05 L366.88,436.56 L367.29,429.83 L367.71,422.67 L368.12,415.94 L368.54,410.45 L368.96,406.87 L369.38,405.62 L369.79,407.28 L370.20,412.07 L370.61,419.54 L371.02,428.95 L371.44,439.38 L371.85,449.80 L372.26,459.21 L372.68,466.68 L373.09,471.47 L373.50,473.12 L373.90,471.41 L374.30,466.44 L374.70,458.70 L375.10,448.94 L375.50,438.12 L375.90,427.31 L376.30,417.55 L376.70,409.81 L377.10,404.84 L377.50,403.12 L377.92,405.08 L378.33,410.73 L378.75,419.38 L379.17,429.98 L379.58,441.27 L380.00,451.88 L380.42,460.52 L380.83,466.17 L381.25,468.12 L381.65,466.69 L382.05,462.51 L382.45,456.02 L382.85,447.83 L383.25,438.75 L383.65,429.67 L384.05,421.48 L384.45,414.99 L384.85,410.81 L385.25,409.38 L385.66,410.55 L386.07,413.97 L386.49,419.29 L386.90,426.00 L387.31,433.44 L387.73,440.87 L388.14,447.58 L388.55,452.90 L388.96,456.32 L389.38,457.50 L389.82,456.23 L390.27,452.68 L390.71,447.54 L391.16,441.84 L391.61,436.70 L392.05,433.14 L392.50,431.88 L392.92,432.17 L393.33,432.97 L393.75,434.06 L394.17,435.16 L394.58,435.96 L395.00,436.25 L395.45,435.41 L395.89,433.07 L396.34,429.69 L396.79,425.93 L397.23,422.55 L397.68,420.21 L398.12,419.38 L398.54,420.49 L398.95,423.73 L399.36,428.78 L399.77,435.14 L400.19,442.19 L400.60,449.24 L401.01,455.60 L401.43,460.64 L401.84,463.88 L402.25,465.00 L402.65,463.85 L403.05,460.52 L403.45,455.34 L403.85,448.81 L404.25,441.56 L404.65,434.32 L405.05,427.79 L405.45,422.60 L405.85,419.27 L406.25,418.12 L406.69,419.53 L407.12,423.53 L407.56,429.51 L408.00,436.56 L408.44,443.62 L408.88,449.60 L409.31,453.60 L409.75,455.00 L410.17,453.49 L410.58,449.15 L411.00,442.50 L411.42,434.34 L411.83,425.66 L412.25,417.50 L412.67,410.85 L413.08,406.51 L413.50,405.00 L413.92,407.05 L414.33,412.97 L414.75,422.03 L415.17,433.15 L415.58,444.98 L416.00,456.09 L416.42,465.16 L416.83,471.07 L417.25,473.12 L417.68,471.58 L418.10,467.10 L418.52,460.11 L418.95,451.32 L419.38,441.56 L419.80,431.81 L420.23,423.01 L420.65,416.03 L421.07,411.54 L421.50,410.00 L421.94,412.07 L422.38,417.96 L422.81,426.78 L423.25,437.19 L423.69,447.59 L424.12,456.41 L424.56,462.31 L425.00,464.38 L425.40,462.97 L425.80,458.88 L426.20,452.52 L426.60,444.51 L427.00,435.62 L427.40,426.74 L427.80,418.73 L428.20,412.37 L428.60,408.28 L429.00,406.88 L429.41,407.87 L429.82,410.75 L430.24,415.25 L430.65,420.91 L431.06,427.19 L431.48,433.46 L431.89,439.13 L432.30,443.62 L432.71,446.51 L433.12,447.50 L433.55,446.90 L433.98,445.34 L434.40,443.41 L434.82,441.85 L435.25,441.25 L435.66,442.03 L436.06,444.27 L436.47,447.62 L436.88,451.56 L437.28,455.51 L437.69,458.85 L438.09,461.09 L438.50,461.88 L438.92,460.69 L439.34,457.21 L439.76,451.74 L440.18,444.70 L440.60,436.68 L441.02,428.32 L441.44,420.30 L441.86,413.26 L442.28,407.79 L442.70,404.31 L443.12,403.12 L443.54,404.46 L443.96,408.32 L444.38,414.22 L444.79,421.46 L445.21,429.17 L445.62,436.41 L446.04,442.31 L446.46,446.16 L446.88,447.50 L447.29,446.70 L447.71,444.53 L448.12,441.56 L448.54,438.59 L448.96,436.42 L449.38,435.62 L449.79,436.30 L450.21,438.26 L450.62,441.25 L451.04,444.92 L451.46,448.83 L451.88,452.50 L452.29,455.49 L452.71,457.45 L453.12,458.12 L453.54,457.03 L453.96,453.88 L454.38,449.06 L454.79,443.15 L455.21,436.85 L455.62,430.94 L456.04,426.12 L456.46,422.97 L456.88,421.88 L457.32,423.21 L457.77,426.93 L458.21,432.32 L458.66,438.30 L459.11,443.69 L459.55,447.42 L460.00,448.75 L460.40,447.53 L460.80,443.98 L461.20,438.44 L461.60,431.48 L462.00,423.75 L462.40,416.02 L462.80,409.06 L463.20,403.52 L463.60,399.97 L464.00,398.75 L464.41,400.56 L464.82,405.84 L465.23,414.17 L465.64,424.87 L466.05,437.08 L466.45,449.80 L466.86,462.00 L467.27,472.70 L467.68,481.03 L468.09,486.31 L468.50,488.12 L468.90,486.99 L469.31,483.65 L469.71,478.30 L470.12,471.25 L470.52,462.91 L470.92,453.77 L471.33,444.35 L471.73,435.21 L472.13,426.87 L472.54,419.82 L472.94,414.47 L473.35,411.14 L473.75,410.00 L474.17,411.13 L474.58,414.22 L475.00,418.44 L475.42,422.66 L475.83,425.74 L476.25,426.88 L476.70,426.66 L477.14,426.05 L477.59,425.17 L478.04,424.20 L478.48,423.32 L478.93,422.72 L479.38,422.50 L479.80,423.49 L480.22,426.37 L480.64,430.91 L481.06,436.75 L481.48,443.41 L481.90,450.34 L482.32,457.00 L482.74,462.84 L483.16,467.38 L483.58,470.26 L484.00,471.25 L484.40,470.93 L484.81,469.97 L485.21,468.40 L485.62,466.25 L486.02,463.58 L486.43,460.43 L486.83,456.88 L487.24,453.00 L487.64,448.90 L488.05,444.65 L488.45,440.35 L488.86,436.10 L489.26,432.00 L489.67,428.12 L490.07,424.57 L490.48,421.42 L490.88,418.75 L491.29,416.60 L491.69,415.03 L492.10,414.07 L492.50,413.75 L492.92,414.57 L493.33,416.97 L493.75,420.80 L494.17,425.78 L494.58,431.58 L495.00,437.81 L495.42,444.04 L495.83,449.84 L496.25,454.83 L496.67,458.65 L497.08,461.06 L497.50,461.88 L497.92,460.97 L498.33,458.37 L498.75,454.38 L499.17,449.48 L499.58,444.27 L500.00,439.38 L500.42,435.38 L500.83,432.78 L501.25,431.88 L501.71,432.80 L502.17,435.31 L502.62,438.75 L503.08,442.19 L503.54,444.70 L504.00,445.62 L504.43,444.65 L504.86,441.82 L505.29,437.50 L505.72,432.20 L506.15,426.55 L506.58,421.25 L507.01,416.93 L507.44,414.10 L507.88,413.12 L508.29,414.56 L508.71,418.68 L509.12,425.00 L509.54,432.75 L509.96,441.00 L510.38,448.75 L510.79,455.07 L511.21,459.19 L511.62,460.62 L512.02,459.51 L512.42,456.27 L512.83,451.22 L513.23,444.86 L513.62,437.81 L514.02,430.76 L514.42,424.40 L514.83,419.36 L515.23,416.12 L515.62,415.00 L516.04,416.45 L516.46,420.63 L516.88,427.03 L517.29,434.88 L517.71,443.24 L518.12,451.09 L518.54,457.50 L518.96,461.67 L519.38,463.12 L519.81,461.92 L520.25,458.41 L520.69,452.95 L521.12,446.07 L521.56,438.44 L522.00,430.81 L522.44,423.93 L522.88,418.46 L523.31,414.96 L523.75,413.75 L524.15,414.12 L524.56,415.20 L524.96,416.97 L525.36,419.38 L525.76,422.35 L526.17,425.78 L526.57,429.58 L526.97,433.63 L527.38,437.81 L527.78,441.99 L528.18,446.04 L528.58,449.84 L528.99,453.28 L529.39,456.25 L529.79,458.65 L530.19,460.42 L530.60,461.51 L531.00,461.88 L531.42,460.94 L531.83,458.19 L532.25,453.82 L532.67,448.12 L533.08,441.49 L533.50,434.38 L533.92,427.26 L534.33,420.62 L534.75,414.93 L535.17,410.56 L535.58,407.81 L536.00,406.88 L536.42,407.82 L536.84,410.60 L537.26,414.96 L537.68,420.58 L538.10,426.98 L538.52,433.65 L538.94,440.05 L539.36,445.66 L539.78,450.03 L540.20,452.80 L540.62,453.75 L541.05,453.08 L541.47,451.19 L541.89,448.35 L542.31,445.00 L542.73,441.65 L543.16,438.81 L543.58,436.92 L544.00,436.25 L544.45,436.73 L544.90,437.98 L545.35,439.52 L545.80,440.77 L546.25,441.25 L546.69,440.91 L547.12,439.94 L547.56,438.42 L548.00,436.50 L548.44,434.38 L548.88,432.25 L549.31,430.33 L549.75,428.81 L550.19,427.84 L550.62,427.50 L551.04,427.88 L551.46,428.96 L551.88,430.62 L552.29,432.66 L552.71,434.84 L553.12,436.88 L553.54,438.54 L553.96,439.62 L554.38,440.00 L554.82,439.85 L555.27,439.41 L555.71,438.79 L556.16,438.09 L556.61,437.46 L557.05,437.03 L557.50,436.88 L557.94,437.18 L558.38,438.06 L558.81,439.38 L559.25,440.94 L559.69,442.49 L560.12,443.81 L560.56,444.69 L561.00,445.00 L561.40,444.66 L561.81,443.68 L562.21,442.09 L562.62,440.01 L563.02,437.54 L563.42,434.83 L563.83,432.04 L564.23,429.34 L564.63,426.87 L565.04,424.78 L565.44,423.20 L565.85,422.21 L566.25,421.88 L566.67,422.43 L567.08,424.05 L567.50,426.63 L567.92,430.00 L568.33,433.92 L568.75,438.12 L569.17,442.33 L569.58,446.25 L570.00,449.62 L570.42,452.20 L570.83,453.82 L571.25,454.38 L571.67,453.95 L572.08,452.70 L572.50,450.71 L572.92,448.12 L573.33,445.11 L573.75,441.88 L574.17,438.64 L574.58,435.62 L575.00,433.04 L575.42,431.05 L575.83,429.80 L576.25,429.38 L576.70,429.59 L577.14,430.20 L577.59,431.08 L578.04,432.05 L578.48,432.93 L578.93,433.53 L579.38,433.75 L579.79,433.71 L580.21,433.60 L580.62,433.44 L581.04,433.23 L581.46,433.02 L581.88,432.81 L582.29,432.65 L582.71,432.54 L583.12,432.50 L583.53,432.82 L583.93,433.77 L584.33,435.30 L584.73,437.32 L585.13,439.75 L585.54,442.46 L585.94,445.31 L586.34,448.16 L586.74,450.87 L587.14,453.30 L587.54,455.33 L587.95,456.86 L588.35,457.80 L588.75,458.12 L589.18,457.02 L589.61,453.81 L590.05,448.74 L590.48,442.23 L590.91,434.81 L591.34,427.07 L591.77,419.64 L592.20,413.13 L592.64,408.07 L593.07,404.85 L593.50,403.75 L593.90,405.37 L594.30,410.08 L594.70,417.40 L595.10,426.64 L595.50,436.88 L595.90,447.11 L596.30,456.35 L596.70,463.67 L597.10,468.38 L597.50,470.00 L597.94,468.55 L598.38,464.33 L598.81,457.76 L599.25,449.49 L599.69,440.31 L600.12,431.14 L600.56,422.86 L601.00,416.29 L601.44,412.08 L601.88,410.62 L602.30,412.24 L602.72,416.85 L603.14,423.74 L603.56,431.88 L603.98,440.01 L604.41,446.90 L604.83,451.51 L605.25,453.12" fill="none" stroke="#222" stroke-width="3.1" stroke-linejoin="round" stroke-linecap="round" />
<path d="M18.4,433 C18.8,430.2 21.6,428.3 22.9,431.6 C24.1,434.6 24.5,437.6 24.5,440.6 M29.8,429.3 L24.6,440.4 C23.7,442.8 23.3,445.2 23.6,447.2" fill="none" stroke="#1e1e1e" stroke-width="1.9" stroke-linecap="round"/>
<path d="M558.3,478.7 L613,478.7 L613,448" fill="none" stroke="#1e1e1e" stroke-width="2"/>
<line x1="1037.7" y1="45.6" x2="1037.7" y2="231.8" stroke="#1e1e1e" stroke-width="2"/>
<line x1="1034.7" y1="46.6" x2="1037.7" y2="46.6" stroke="#1e1e1e" stroke-width="2"/>
<line x1="1034.7" y1="83.44" x2="1037.7" y2="83.44" stroke="#1e1e1e" stroke-width="2"/>
<line x1="1034.7" y1="120.28" x2="1037.7" y2="120.28" stroke="#1e1e1e" stroke-width="2"/>
<line x1="1034.7" y1="157.12" x2="1037.7" y2="157.12" stroke="#1e1e1e" stroke-width="2"/>
<line x1="1034.7" y1="193.96" x2="1037.7" y2="193.96" stroke="#1e1e1e" stroke-width="2"/>
<line x1="1034.7" y1="230.8" x2="1037.7" y2="230.8" stroke="#1e1e1e" stroke-width="2"/>
<path d="M1066.4,116.1 L1101.6,116.1 L1094.2,145.7 L1101.6,183 L1066.4,183 L1073.8,145.7 Z" fill="none" stroke="#5cb053" stroke-width="5.3" stroke-linejoin="round"/>
<line x1="1073.8" y1="145.7" x2="1094.2" y2="145.7" stroke="#5cb053" stroke-width="5.3"/>
<line x1="1084" y1="116.1" x2="1084" y2="80.6" stroke="#5cb053" stroke-width="5.3"/>
<line x1="1084" y1="183" x2="1084" y2="188.5" stroke="#5cb053" stroke-width="5.3"/>
<line x1="1075" y1="80.6" x2="1093" y2="80.6" stroke="#5cb053" stroke-width="5.8"/>
<line x1="1075" y1="188.5" x2="1093" y2="188.5" stroke="#5cb053" stroke-width="5.8"/>
<path d="M1130.1000000000001,109.1 L1164.7,109.1 L1156.9,155.2 L1164.7,175.3 L1130.1000000000001,175.3 L1137.9,155.2 Z" fill="none" stroke="#2e3399" stroke-width="5.3" stroke-linejoin="round"/>
<line x1="1137.9" y1="155.2" x2="1156.9" y2="155.2" stroke="#2e3399" stroke-width="5.3"/>
<line x1="1147.4" y1="109.1" x2="1147.4" y2="102" stroke="#2e3399" stroke-width="5.3"/>
<line x1="1147.4" y1="175.3" x2="1147.4" y2="198.2" stroke="#2e3399" stroke-width="5.3"/>
<line x1="1139.1000000000001" y1="102" x2="1155.7" y2="102" stroke="#2e3399" stroke-width="5.8"/>
<line x1="1139.1000000000001" y1="198.2" x2="1155.7" y2="198.2" stroke="#2e3399" stroke-width="5.8"/>
<path d="M1082.2,74.9 L1082.2,59.5 L1148.8,59.5 L1148.8,74.9" fill="none" stroke="#1e1e1e" stroke-width="2"/>
<line x1="1038.2" y1="305" x2="1038.2" y2="453.3" stroke="#1e1e1e" stroke-width="2"/>
<line x1="1035.2" y1="305.5" x2="1038.2" y2="305.5" stroke="#1e1e1e" stroke-width="2"/>
<line x1="1035.2" y1="354.43" x2="1038.2" y2="354.43" stroke="#1e1e1e" stroke-width="2"/>
<line x1="1035.2" y1="403.36" x2="1038.2" y2="403.36" stroke="#1e1e1e" stroke-width="2"/>
<line x1="1035.2" y1="452.28999999999996" x2="1038.2" y2="452.28999999999996" stroke="#1e1e1e" stroke-width="2"/>
<path d="M1068.5,377.2 L1096.9,377.2 L1090.7,398.1 L1096.9,409.6 L1068.5,409.6 L1074.7,398.1 Z" fill="none" stroke="#5cb053" stroke-width="4.8" stroke-linejoin="round"/>
<line x1="1074.7" y1="398.1" x2="1090.7" y2="398.1" stroke="#5cb053" stroke-width="4.8"/>
<line x1="1082.7" y1="377.2" x2="1082.7" y2="339.1" stroke="#5cb053" stroke-width="4.8"/>
<line x1="1082.7" y1="409.6" x2="1082.7" y2="414.1" stroke="#5cb053" stroke-width="4.8"/>
<line x1="1076.0" y1="339.1" x2="1089.4" y2="339.1" stroke="#5cb053" stroke-width="5.3"/>
<line x1="1076.0" y1="414.1" x2="1089.4" y2="414.1" stroke="#5cb053" stroke-width="5.3"/>
<path d="M1130.7,388.5 L1159.3,388.5 L1153,395.7 L1159.3,423.3 L1130.7,423.3 L1137,395.7 Z" fill="none" stroke="#2e3399" stroke-width="4.6" stroke-linejoin="round"/>
<line x1="1137" y1="395.7" x2="1153" y2="395.7" stroke="#2e3399" stroke-width="4.6"/>
<line x1="1145" y1="388.5" x2="1145" y2="384.5" stroke="#2e3399" stroke-width="4.6"/>
<line x1="1145" y1="423.3" x2="1145" y2="437" stroke="#2e3399" stroke-width="4.6"/>
<line x1="1138" y1="384.5" x2="1152" y2="384.5" stroke="#2e3399" stroke-width="5.1"/>
<line x1="1138" y1="437" x2="1152" y2="437" stroke="#2e3399" stroke-width="5.1"/>
<path d="M1082.2,333 L1082.2,317.5 L1147.6,317.5 L1147.6,333" fill="none" stroke="#1e1e1e" stroke-width="2"/>
<line x1="987" y1="550" x2="987" y2="818.5" stroke="#1e1e1e" stroke-width="2"/>
<line x1="984" y1="574.2" x2="987" y2="574.2" stroke="#1e1e1e" stroke-width="2"/>
<line x1="984" y1="627.8" x2="987" y2="627.8" stroke="#1e1e1e" stroke-width="2"/>
<line x1="984" y1="682.4" x2="987" y2="682.4" stroke="#1e1e1e" stroke-width="2"/>
<line x1="984" y1="737.7" x2="987" y2="737.7" stroke="#1e1e1e" stroke-width="2"/>
<line x1="984" y1="793.5" x2="987" y2="793.5" stroke="#1e1e1e" stroke-width="2"/>
<path d="M1016,601.7 L1066,601.7 L1054,663.5 L1066,717.4 L1016,717.4 L1028,663.5 Z" fill="none" stroke="#2e9f4f" stroke-width="5.5" stroke-linejoin="round"/>
<line x1="1028" y1="663.5" x2="1054" y2="663.5" stroke="#2e9f4f" stroke-width="5.5"/>
<line x1="1041" y1="601.7" x2="1041" y2="566" stroke="#2e9f4f" stroke-width="5.5"/>
<line x1="1041" y1="717.4" x2="1041" y2="777" stroke="#2e9f4f" stroke-width="5.5"/>
<line x1="1028.6" y1="566" x2="1053.4" y2="566" stroke="#2e9f4f" stroke-width="6.0"/>
<line x1="1028.6" y1="777" x2="1053.4" y2="777" stroke="#2e9f4f" stroke-width="6.0"/>
<path d="M1112.45,680.5 L1163.05,680.5 L1150.55,731.6 L1163.05,785 L1112.45,785 L1124.95,731.6 Z" fill="none" stroke="#2e3399" stroke-width="5.5" stroke-linejoin="round"/>
<line x1="1124.95" y1="731.6" x2="1150.55" y2="731.6" stroke="#2e3399" stroke-width="5.5"/>
<line x1="1137.75" y1="680.5" x2="1137.75" y2="675.3" stroke="#2e3399" stroke-width="5.5"/>
<line x1="1137.75" y1="785" x2="1137.75" y2="810.2" stroke="#2e3399" stroke-width="5.5"/>
<line x1="1125.05" y1="675.3" x2="1150.45" y2="675.3" stroke="#2e3399" stroke-width="6.0"/>
<line x1="1125.05" y1="810.2" x2="1150.45" y2="810.2" stroke="#2e3399" stroke-width="6.0"/>
<path d="M1040,559.6 L1040,545.3 L1138.9,545.3 L1138.9,559.6" fill="none" stroke="#1e1e1e" stroke-width="2"/>
<path d="M1090,536.6 L1090.00,531.90 M1090,536.6 L1094.47,535.15 M1090,536.6 L1092.76,540.40 M1090,536.6 L1087.24,540.40 M1090,536.6 L1085.53,535.15 " stroke="#1e1e1e" stroke-width="2.2" stroke-linecap="round" fill="none"/>
<text transform="translate(1.8,30.7)" font-family="Liberation Sans" font-size="38.5" fill="#1e1e1e" stroke="#1e1e1e" stroke-width="0.3">a</text>
<text transform="translate(622.8,30.9)" font-family="Liberation Sans" font-size="39" fill="#1e1e1e" stroke="#1e1e1e" stroke-width="0.3">b</text>
<text transform="translate(623.1,289.2)" font-family="Liberation Sans" font-size="39" fill="#1e1e1e" stroke="#1e1e1e" stroke-width="0.3">c</text>
<text transform="translate(945.4,30.4)" font-family="Liberation Sans" font-size="39" fill="#1e1e1e" stroke="#1e1e1e" stroke-width="0.3">d</text>
<text transform="translate(945.3,289.2)" font-family="Liberation Sans" font-size="39" fill="#1e1e1e" stroke="#1e1e1e" stroke-width="0.3">e</text>
<text transform="translate(1.5,558.0)" font-family="Liberation Sans" font-size="39.5" fill="#1e1e1e" stroke="#1e1e1e" stroke-width="0.3">f</text>
<text transform="translate(875.9,558.7)" font-family="Liberation Sans" font-size="38.5" fill="#1e1e1e" stroke="#1e1e1e" stroke-width="0.3">g</text>
<text transform="translate(158.6,55.6)" font-family="Liberation Sans" font-size="28.3" fill="#1e1e1e" stroke="#1e1e1e" stroke-width="0.3">Parietal Cortex during aWk</text>
<text transform="translate(137.8,92.5)" font-family="Liberation Sans" font-size="28" fill="#2e9f4f" stroke="#2e9f4f" stroke-width="0.3">Control</text>
<text transform="translate(416.3,91.8)" font-family="Liberation Sans" font-size="28" fill="#2b2f8f" stroke="#2b2f8f" stroke-width="0.3">APP-KO</text>
<text transform="translate(31.5,202.6) rotate(-90)" font-family="Liberation Sans" font-size="28" fill="#1e1e1e" stroke="#1e1e1e" stroke-width="0.3">LFP</text>
<text transform="translate(18.4,316.3)" font-family="Liberation Sans" font-size="28" fill="#1e1e1e" stroke="#1e1e1e" stroke-width="0.3">θ</text>
<text transform="translate(568.0,502.5)" font-family="Liberation Sans" font-size="22" fill="#1e1e1e" stroke="#1e1e1e" stroke-width="0.3">0.1s</text>
<text transform="translate(632.5,493.6) rotate(-90) scale(1.04,1)" font-family="Liberation Sans" font-size="22" fill="#1e1e1e" stroke="#1e1e1e" stroke-width="0.3">0.1mV</text>
<text transform="translate(675.3,240.2) rotate(-90) scale(1.005,1)" font-family="Liberation Sans" font-size="28" fill="#1e1e1e" stroke="#1e1e1e" stroke-width="0.3">Power (μV<tspan font-size="22" dy="-18">2</tspan><tspan dy="18" dx="-5.5">/Hz)</tspan></text>
<text transform="translate(700.3,74.1)" font-family="Liberation Sans" font-size="28" fill="#1e1e1e" stroke="#1e1e1e" stroke-width="0.3">3</text>
<text transform="translate(700.3,128.4)" font-family="Liberation Sans" font-size="28" fill="#1e1e1e" stroke="#1e1e1e" stroke-width="0.3">2</text>
<text transform="translate(700.3,183.8)" font-family="Liberation Sans" font-size="28" fill="#1e1e1e" stroke="#1e1e1e" stroke-width="0.3">1</text>
<text transform="translate(699.3,239.3)" font-family="Liberation Sans" font-size="28" fill="#1e1e1e" stroke="#1e1e1e" stroke-width="0.3">0</text>
<text transform="translate(714.3,59.3)" font-family="Liberation Sans" font-size="22.5" fill="#1e1e1e" stroke="#1e1e1e" stroke-width="0.3">x10<tspan font-size="16.5" dy="-13.3">3</tspan></text>
<text transform="translate(724.5,255.0) scale(0.76,1)" font-family="Liberation Sans" font-size="26" fill="#1e1e1e" stroke="#1e1e1e" stroke-width="0.3">2</text>
<text transform="translate(769.5,255.0) scale(0.76,1)" font-family="Liberation Sans" font-size="26" fill="#1e1e1e" stroke="#1e1e1e" stroke-width="0.3">6</text>
<text transform="translate(808.5,255.0) scale(0.76,1)" font-family="Liberation Sans" font-size="26" fill="#1e1e1e" stroke="#1e1e1e" stroke-width="0.3">10</text>
<text transform="translate(853.5,255.0) scale(0.76,1)" font-family="Liberation Sans" font-size="26" fill="#1e1e1e" stroke="#1e1e1e" stroke-width="0.3">14</text>
<text transform="translate(898.5,255.0) scale(0.76,1)" font-family="Liberation Sans" font-size="26" fill="#1e1e1e" stroke="#1e1e1e" stroke-width="0.3">18</text>
<text transform="translate(676.0,438.7) rotate(-90) scale(1.03,1)" font-family="Liberation Sans" font-size="28" fill="#1e1e1e" stroke="#1e1e1e" stroke-width="0.3">Power (dB)</text>
<text transform="translate(683.6,301.0)" font-family="Liberation Sans" font-size="28" fill="#1e1e1e" stroke="#1e1e1e" stroke-width="0.3">50</text>
<text transform="translate(683.6,354.4)" font-family="Liberation Sans" font-size="28" fill="#1e1e1e" stroke="#1e1e1e" stroke-width="0.3">30</text>
<text transform="translate(683.6,409.4)" font-family="Liberation Sans" font-size="28" fill="#1e1e1e" stroke="#1e1e1e" stroke-width="0.3">10</text>
<text transform="translate(673.6,458.9)" font-family="Liberation Sans" font-size="28" fill="#1e1e1e" stroke="#1e1e1e" stroke-width="0.3">-10</text>
<text transform="translate(720.0,480.6) scale(0.76,1)" font-family="Liberation Sans" font-size="26" fill="#1e1e1e" stroke="#1e1e1e" stroke-width="0.3">0</text>
<text transform="translate(753.5,480.6) scale(0.76,1)" font-family="Liberation Sans" font-size="26" fill="#1e1e1e" stroke="#1e1e1e" stroke-width="0.3">40</text>
<text transform="translate(794.6,480.6) scale(0.76,1)" font-family="Liberation Sans" font-size="26" fill="#1e1e1e" stroke="#1e1e1e" stroke-width="0.3">80</text>
<text transform="translate(827.5,480.6) scale(0.76,1)" font-family="Liberation Sans" font-size="26" fill="#1e1e1e" stroke="#1e1e1e" stroke-width="0.3">120</text>
<text transform="translate(868.5,480.6) scale(0.76,1)" font-family="Liberation Sans" font-size="26" fill="#1e1e1e" stroke="#1e1e1e" stroke-width="0.3">160</text>
<text transform="translate(910.5,480.6) scale(0.76,1)" font-family="Liberation Sans" font-size="26" fill="#1e1e1e" stroke="#1e1e1e" stroke-width="0.3">200</text>
<text transform="translate(734.0,506.0)" font-family="Liberation Sans" font-size="28.4" fill="#1e1e1e" stroke="#1e1e1e" stroke-width="0.3">Frequency (Hz)</text>
<text transform="translate(997.3,237.9) rotate(-90) scale(1.028,1)" font-family="Liberation Sans" font-size="25.5" fill="#1e1e1e" stroke="#1e1e1e" stroke-width="0.3">θ power (μV<tspan font-size="20.5" dy="-11.7">2</tspan><tspan dy="11.7" dx="-3">/Hz)</tspan></text>
<text transform="translate(1002.4,58.2)" font-family="Liberation Sans" font-size="27" fill="#1e1e1e" stroke="#1e1e1e" stroke-width="0.3">10</text>
<text transform="translate(1017.4,93.5)" font-family="Liberation Sans" font-size="27" fill="#1e1e1e" stroke="#1e1e1e" stroke-width="0.3">8</text>
<text transform="translate(1017.4,130.0)" font-family="Liberation Sans" font-size="27" fill="#1e1e1e" stroke="#1e1e1e" stroke-width="0.3">6</text>
<text transform="translate(1017.4,167.0)" font-family="Liberation Sans" font-size="27" fill="#1e1e1e" stroke="#1e1e1e" stroke-width="0.3">4</text>
<text transform="translate(1017.4,204.0)" font-family="Liberation Sans" font-size="27" fill="#1e1e1e" stroke="#1e1e1e" stroke-width="0.3">2</text>
<text transform="translate(1017.4,240.5)" font-family="Liberation Sans" font-size="27" fill="#1e1e1e" stroke="#1e1e1e" stroke-width="0.3">0</text>
<text transform="translate(1032.3,44.0)" font-family="Liberation Sans" font-size="23" fill="#1e1e1e" stroke="#1e1e1e" stroke-width="0.3">x10<tspan font-size="17.5" dy="-13.5">3</tspan></text>
<text transform="translate(1100.0,54.5)" font-family="Liberation Sans" font-size="28" fill="#1e1e1e" stroke="#1e1e1e" stroke-width="0.3">ns</text>
<text transform="translate(998.4,477.0) rotate(-90) scale(1.035,1)" font-family="Liberation Sans" font-size="25.5" fill="#1e1e1e" stroke="#1e1e1e" stroke-width="0.3"><tspan font-family="Liberation Serif">γ</tspan> power (μV<tspan font-size="20.5" dy="-11.7">2</tspan><tspan dy="11.7" dx="-3">/Hz)</tspan></text>
<text transform="translate(1003.5,317.7)" font-family="Liberation Sans" font-size="27" fill="#1e1e1e" stroke="#1e1e1e" stroke-width="0.3">15</text>
<text transform="translate(1003.5,366.4)" font-family="Liberation Sans" font-size="27" fill="#1e1e1e" stroke="#1e1e1e" stroke-width="0.3">10</text>
<text transform="translate(1018.5,416.1)" font-family="Liberation Sans" font-size="27" fill="#1e1e1e" stroke="#1e1e1e" stroke-width="0.3">5</text>
<text transform="translate(1018.5,463.8)" font-family="Liberation Sans" font-size="27" fill="#1e1e1e" stroke="#1e1e1e" stroke-width="0.3">0</text>
<text transform="translate(1034.0,303.3)" font-family="Liberation Sans" font-size="23" fill="#1e1e1e" stroke="#1e1e1e" stroke-width="0.3">x10<tspan font-size="17.5" dy="-13.5">2</tspan></text>
<text transform="translate(1099.8,312.2)" font-family="Liberation Sans" font-size="28" fill="#1e1e1e" stroke="#1e1e1e" stroke-width="0.3">ns</text>
<text transform="translate(52.0,773.0) rotate(-90)" font-family="Liberation Sans" font-size="28" fill="#1e1e1e" stroke="#1e1e1e" stroke-width="0.3">Amp Freq (Hz)</text>
<text transform="translate(68.8,561.2)" font-family="Liberation Sans" font-size="28" fill="#1e1e1e" stroke="#1e1e1e" stroke-width="0.3">220</text>
<text transform="translate(68.8,611.8)" font-family="Liberation Sans" font-size="28" fill="#1e1e1e" stroke="#1e1e1e" stroke-width="0.3">180</text>
<text transform="translate(68.8,663.3)" font-family="Liberation Sans" font-size="28" fill="#1e1e1e" stroke="#1e1e1e" stroke-width="0.3">140</text>
<text transform="translate(68.8,717.9)" font-family="Liberation Sans" font-size="28" fill="#1e1e1e" stroke="#1e1e1e" stroke-width="0.3">100</text>
<text transform="translate(84.8,772.5)" font-family="Liberation Sans" font-size="28" fill="#1e1e1e" stroke="#1e1e1e" stroke-width="0.3">60</text>
<text transform="translate(84.8,826.4)" font-family="Liberation Sans" font-size="28" fill="#1e1e1e" stroke="#1e1e1e" stroke-width="0.3">20</text>
<text transform="translate(170.0,846.8)" font-family="Liberation Sans" font-size="28" fill="#1e1e1e" stroke="#1e1e1e" stroke-width="0.3">5</text>
<text transform="translate(258.9,846.8)" font-family="Liberation Sans" font-size="28" fill="#1e1e1e" stroke="#1e1e1e" stroke-width="0.3">10</text>
<text transform="translate(340.8,846.8)" font-family="Liberation Sans" font-size="28" fill="#1e1e1e" stroke="#1e1e1e" stroke-width="0.3">15</text>
<text transform="translate(411.6,846.8)" font-family="Liberation Sans" font-size="28" fill="#1e1e1e" stroke="#1e1e1e" stroke-width="0.3">20</text>
<text transform="translate(512.7,846.8)" font-family="Liberation Sans" font-size="28" fill="#1e1e1e" stroke="#1e1e1e" stroke-width="0.3">5</text>
<text transform="translate(598.4,846.8)" font-family="Liberation Sans" font-size="28" fill="#1e1e1e" stroke="#1e1e1e" stroke-width="0.3">10</text>
<text transform="translate(679.0,846.8)" font-family="Liberation Sans" font-size="28" fill="#1e1e1e" stroke="#1e1e1e" stroke-width="0.3">15</text>
<text transform="translate(748.9,846.8)" font-family="Liberation Sans" font-size="28" fill="#1e1e1e" stroke="#1e1e1e" stroke-width="0.3">20</text>
<text transform="translate(362.8,879.5)" font-family="Liberation Sans" font-size="28.6" fill="#1e1e1e" stroke="#1e1e1e" stroke-width="0.3">Phase Freq (Hz)</text>
<text transform="translate(121.9,570.0)" font-family="Liberation Sans" font-size="28" fill="#ffffff" stroke="#ffffff" stroke-width="0.3">Control</text>
<text transform="translate(380.0,570.0)" font-family="Liberation Sans" font-size="28" fill="#ffffff" stroke="#ffffff" stroke-width="0.3">aWk</text>
<text transform="translate(458.5,569.0)" font-family="Liberation Sans" font-size="28" fill="#ffffff" stroke="#ffffff" stroke-width="0.3">APP-KO</text>
<text transform="translate(718.0,570.0)" font-family="Liberation Sans" font-size="28" fill="#ffffff" stroke="#ffffff" stroke-width="0.3">aWk</text>
<text transform="translate(784.2,607.8)" font-family="Liberation Sans" font-size="28" fill="#1e1e1e" stroke="#1e1e1e" stroke-width="0.3">5</text>
<text transform="translate(798.2,590.6)" font-family="Liberation Sans" font-size="23" fill="#1e1e1e" stroke="#1e1e1e" stroke-width="0.3">x10<tspan font-size="16.5" dy="-12.8">-3</tspan></text>
<text transform="translate(783.9,777.1)" font-family="Liberation Sans" font-size="28" fill="#1e1e1e" stroke="#1e1e1e" stroke-width="0.3">0</text>
<text transform="translate(825.0,697.3) rotate(-90) scale(1.08,1)" font-family="Liberation Sans" font-size="27" fill="#1e1e1e" stroke="#1e1e1e" stroke-width="0.3">MI</text>
<text transform="translate(926.8,788.0) rotate(-90)" font-family="Liberation Sans" font-size="28" fill="#1e1e1e" stroke="#1e1e1e" stroke-width="0.3">θ-<tspan font-family="Liberation Serif">γ</tspan> coupling (MI)</text>
<text transform="translate(942.5,584.2)" font-family="Liberation Sans" font-size="28" fill="#1e1e1e" stroke="#1e1e1e" stroke-width="0.3">2.4</text>
<text transform="translate(966.5,633.8)" font-family="Liberation Sans" font-size="28" fill="#1e1e1e" stroke="#1e1e1e" stroke-width="0.3">2</text>
<text transform="translate(942.5,692.1)" font-family="Liberation Sans" font-size="28" fill="#1e1e1e" stroke="#1e1e1e" stroke-width="0.3">1.6</text>
<text transform="translate(942.5,747.5)" font-family="Liberation Sans" font-size="28" fill="#1e1e1e" stroke="#1e1e1e" stroke-width="0.3">1.2</text>
<text transform="translate(942.5,803.5)" font-family="Liberation Sans" font-size="28" fill="#1e1e1e" stroke="#1e1e1e" stroke-width="0.3">0.8</text>
<text transform="translate(981.3,547.5)" font-family="Liberation Sans" font-size="23" fill="#1e1e1e" stroke="#1e1e1e" stroke-width="0.3">x10<tspan font-size="17.5" dy="-12.75">-3</tspan></text>
<text transform="translate(989.8,860.2)" font-family="Liberation Sans" font-size="28" fill="#1e1e1e" stroke="#1e1e1e" stroke-width="0.3">Control</text>
<text transform="translate(1092.2,859.2)" font-family="Liberation Sans" font-size="28" fill="#1e1e1e" stroke="#1e1e1e" stroke-width="0.3">APP-KO</text>
</svg>
</body></html>
